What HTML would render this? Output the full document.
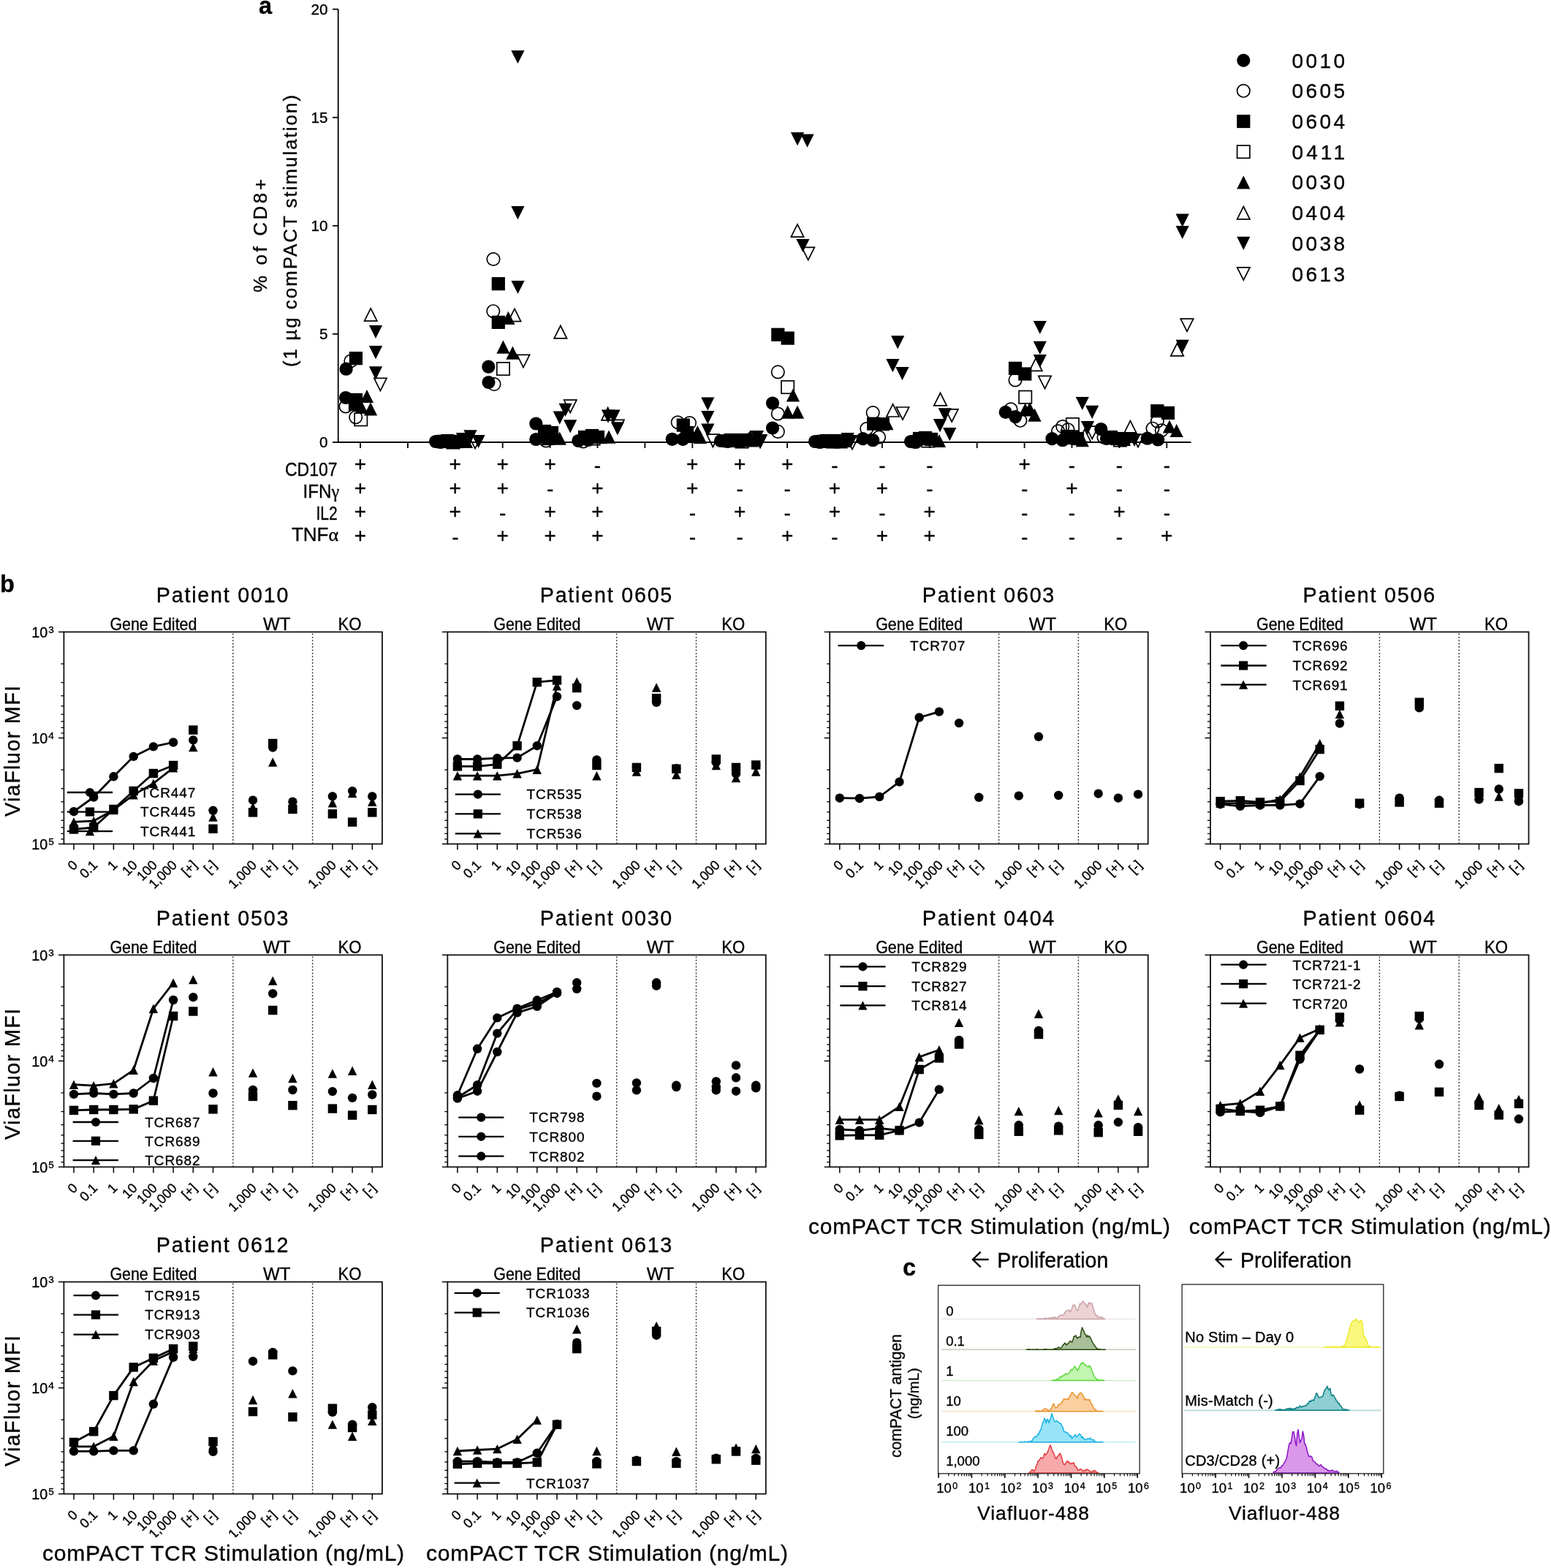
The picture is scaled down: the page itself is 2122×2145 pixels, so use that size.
<!DOCTYPE html><html><head><meta charset="utf-8"><title>Figure</title><style>html,body{margin:0;padding:0;background:#fff;}svg{display:block;}text{font-family:"Liberation Sans",sans-serif;stroke:#000;stroke-width:0.35px;}</style></head><body><svg width="2122" height="2145" viewBox="0 0 2122 2145" font-family="'Liberation Sans', sans-serif" fill="#000"><rect width="100%" height="100%" fill="#fff"/><text x="354" y="18.7" font-size="32.5" font-weight="bold">a</text>
<line x1="462.7" y1="12.5" x2="462.7" y2="605.9" stroke="#000" stroke-width="1.8" />
<line x1="461.8" y1="605" x2="1629.5" y2="605" stroke="#000" stroke-width="1.8" />
<line x1="455" y1="605" x2="462.7" y2="605" stroke="#000" stroke-width="1.8" />
<text x="448.5" y="612.4" font-size="20.7" text-anchor="end">0</text>
<line x1="455" y1="456.9" x2="462.7" y2="456.9" stroke="#000" stroke-width="1.8" />
<text x="448.5" y="464.3" font-size="20.7" text-anchor="end">5</text>
<line x1="455" y1="308.8" x2="462.7" y2="308.8" stroke="#000" stroke-width="1.8" />
<text x="448.5" y="316.2" font-size="20.7" text-anchor="end">10</text>
<line x1="455" y1="160.7" x2="462.7" y2="160.7" stroke="#000" stroke-width="1.8" />
<text x="448.5" y="168.1" font-size="20.7" text-anchor="end">15</text>
<line x1="455" y1="12.6" x2="462.7" y2="12.6" stroke="#000" stroke-width="1.8" />
<text x="448.5" y="20" font-size="20.7" text-anchor="end">20</text>
<line x1="493" y1="605" x2="493" y2="613" stroke="#000" stroke-width="1.8" />
<line x1="557.9" y1="605" x2="557.9" y2="613" stroke="#000" stroke-width="1.8" />
<line x1="622.8" y1="605" x2="622.8" y2="613" stroke="#000" stroke-width="1.8" />
<line x1="687.7" y1="605" x2="687.7" y2="613" stroke="#000" stroke-width="1.8" />
<line x1="752.6" y1="605" x2="752.6" y2="613" stroke="#000" stroke-width="1.8" />
<line x1="817.5" y1="605" x2="817.5" y2="613" stroke="#000" stroke-width="1.8" />
<line x1="882.4" y1="605" x2="882.4" y2="613" stroke="#000" stroke-width="1.8" />
<line x1="947.3" y1="605" x2="947.3" y2="613" stroke="#000" stroke-width="1.8" />
<line x1="1012.2" y1="605" x2="1012.2" y2="613" stroke="#000" stroke-width="1.8" />
<line x1="1077.1" y1="605" x2="1077.1" y2="613" stroke="#000" stroke-width="1.8" />
<line x1="1142" y1="605" x2="1142" y2="613" stroke="#000" stroke-width="1.8" />
<line x1="1206.9" y1="605" x2="1206.9" y2="613" stroke="#000" stroke-width="1.8" />
<line x1="1271.8" y1="605" x2="1271.8" y2="613" stroke="#000" stroke-width="1.8" />
<line x1="1336.7" y1="605" x2="1336.7" y2="613" stroke="#000" stroke-width="1.8" />
<line x1="1401.6" y1="605" x2="1401.6" y2="613" stroke="#000" stroke-width="1.8" />
<line x1="1466.5" y1="605" x2="1466.5" y2="613" stroke="#000" stroke-width="1.8" />
<line x1="1531.4" y1="605" x2="1531.4" y2="613" stroke="#000" stroke-width="1.8" />
<line x1="1596.3" y1="605" x2="1596.3" y2="613" stroke="#000" stroke-width="1.8" />
<text x="364.8" y="400" font-size="25.8" textLength="155" lengthAdjust="spacing" transform="rotate(-90 364.8 400)">% of  CD8+</text>
<text x="406" y="502" font-size="25.8" textLength="372" lengthAdjust="spacing" transform="rotate(-90 406 502)">(1 µg comPACT stimulation)</text>
<text x="390" y="651.3" font-size="24.9" textLength="71.6" lengthAdjust="spacingAndGlyphs">CD107</text>
<text x="414.6" y="680.6" font-size="24.9" textLength="49.6" lengthAdjust="spacingAndGlyphs">IFN<tspan font-family="'Liberation Serif', serif">γ</tspan></text>
<text x="432.4" y="710.5" font-size="24.9" textLength="29.2" lengthAdjust="spacingAndGlyphs">IL2</text>
<text x="398.9" y="739.8" font-size="24.9" textLength="64.2" lengthAdjust="spacingAndGlyphs">TNF<tspan font-family="'Liberation Serif', serif">α</tspan></text>
<text x="493" y="644" font-size="28" text-anchor="middle">+</text>
<text x="622.8" y="644" font-size="28" text-anchor="middle">+</text>
<text x="687.7" y="644" font-size="28" text-anchor="middle">+</text>
<text x="752.6" y="644" font-size="28" text-anchor="middle">+</text>
<text x="817.5" y="645.7" font-size="28" text-anchor="middle">-</text>
<text x="947.3" y="644" font-size="28" text-anchor="middle">+</text>
<text x="1012.2" y="644" font-size="28" text-anchor="middle">+</text>
<text x="1077.1" y="644" font-size="28" text-anchor="middle">+</text>
<text x="1142" y="645.7" font-size="28" text-anchor="middle">-</text>
<text x="1206.9" y="645.7" font-size="28" text-anchor="middle">-</text>
<text x="1271.8" y="645.7" font-size="28" text-anchor="middle">-</text>
<text x="1401.6" y="644" font-size="28" text-anchor="middle">+</text>
<text x="1466.5" y="645.7" font-size="28" text-anchor="middle">-</text>
<text x="1531.4" y="645.7" font-size="28" text-anchor="middle">-</text>
<text x="1596.3" y="645.7" font-size="28" text-anchor="middle">-</text>
<text x="493" y="676.5" font-size="28" text-anchor="middle">+</text>
<text x="622.8" y="676.5" font-size="28" text-anchor="middle">+</text>
<text x="687.7" y="676.5" font-size="28" text-anchor="middle">+</text>
<text x="752.6" y="678.2" font-size="28" text-anchor="middle">-</text>
<text x="817.5" y="676.5" font-size="28" text-anchor="middle">+</text>
<text x="947.3" y="676.5" font-size="28" text-anchor="middle">+</text>
<text x="1012.2" y="678.2" font-size="28" text-anchor="middle">-</text>
<text x="1077.1" y="678.2" font-size="28" text-anchor="middle">-</text>
<text x="1142" y="676.5" font-size="28" text-anchor="middle">+</text>
<text x="1206.9" y="676.5" font-size="28" text-anchor="middle">+</text>
<text x="1271.8" y="678.2" font-size="28" text-anchor="middle">-</text>
<text x="1401.6" y="678.2" font-size="28" text-anchor="middle">-</text>
<text x="1466.5" y="676.5" font-size="28" text-anchor="middle">+</text>
<text x="1531.4" y="678.2" font-size="28" text-anchor="middle">-</text>
<text x="1596.3" y="678.2" font-size="28" text-anchor="middle">-</text>
<text x="493" y="709.1" font-size="28" text-anchor="middle">+</text>
<text x="622.8" y="709.1" font-size="28" text-anchor="middle">+</text>
<text x="687.7" y="710.8" font-size="28" text-anchor="middle">-</text>
<text x="752.6" y="709.1" font-size="28" text-anchor="middle">+</text>
<text x="817.5" y="709.1" font-size="28" text-anchor="middle">+</text>
<text x="947.3" y="710.8" font-size="28" text-anchor="middle">-</text>
<text x="1012.2" y="709.1" font-size="28" text-anchor="middle">+</text>
<text x="1077.1" y="710.8" font-size="28" text-anchor="middle">-</text>
<text x="1142" y="709.1" font-size="28" text-anchor="middle">+</text>
<text x="1206.9" y="710.8" font-size="28" text-anchor="middle">-</text>
<text x="1271.8" y="709.1" font-size="28" text-anchor="middle">+</text>
<text x="1401.6" y="710.8" font-size="28" text-anchor="middle">-</text>
<text x="1466.5" y="710.8" font-size="28" text-anchor="middle">-</text>
<text x="1531.4" y="709.1" font-size="28" text-anchor="middle">+</text>
<text x="1596.3" y="710.8" font-size="28" text-anchor="middle">-</text>
<text x="493" y="741.9" font-size="28" text-anchor="middle">+</text>
<text x="622.8" y="743.6" font-size="28" text-anchor="middle">-</text>
<text x="687.7" y="741.9" font-size="28" text-anchor="middle">+</text>
<text x="752.6" y="741.9" font-size="28" text-anchor="middle">+</text>
<text x="817.5" y="741.9" font-size="28" text-anchor="middle">+</text>
<text x="947.3" y="743.6" font-size="28" text-anchor="middle">-</text>
<text x="1012.2" y="743.6" font-size="28" text-anchor="middle">-</text>
<text x="1077.1" y="741.9" font-size="28" text-anchor="middle">+</text>
<text x="1142" y="743.6" font-size="28" text-anchor="middle">-</text>
<text x="1206.9" y="741.9" font-size="28" text-anchor="middle">+</text>
<text x="1271.8" y="741.9" font-size="28" text-anchor="middle">+</text>
<text x="1401.6" y="743.6" font-size="28" text-anchor="middle">-</text>
<text x="1466.5" y="743.6" font-size="28" text-anchor="middle">-</text>
<text x="1531.4" y="743.6" font-size="28" text-anchor="middle">-</text>
<text x="1596.3" y="741.9" font-size="28" text-anchor="middle">+</text>
<circle cx="1701.3" cy="82.6" r="9.1" fill="#000"/>
<text x="1767.5" y="92.6" font-size="28" textLength="72.5" lengthAdjust="spacing">0010</text>
<circle cx="1701.3" cy="124.3" r="8.7" fill="none" stroke="#000" stroke-width="1.7"/>
<text x="1767.5" y="134.3" font-size="28" textLength="72.5" lengthAdjust="spacing">0605</text>
<rect x="1692.2" y="156.9" width="18.2" height="18.2" fill="#000"/>
<text x="1767.5" y="176" font-size="28" textLength="72.5" lengthAdjust="spacing">0604</text>
<rect x="1692.6" y="199" width="17.3" height="17.3" fill="none" stroke="#000" stroke-width="1.7"/>
<text x="1767.5" y="217.7" font-size="28" textLength="72.5" lengthAdjust="spacing">0411</text>
<path d="M1701.3 240.3L1710.4 258.5L1692.2 258.5Z" fill="#000"/>
<text x="1767.5" y="259.4" font-size="28" textLength="72.5" lengthAdjust="spacing">0030</text>
<path d="M1701.3 282.5L1710 299.8L1692.6 299.8Z" fill="none" stroke="#000" stroke-width="1.7"/>
<text x="1767.5" y="301.1" font-size="28" textLength="72.5" lengthAdjust="spacing">0404</text>
<path d="M1701.3 341.9L1710.4 323.7L1692.2 323.7Z" fill="#000"/>
<text x="1767.5" y="342.8" font-size="28" textLength="72.5" lengthAdjust="spacing">0038</text>
<path d="M1701.3 383.1L1710 365.9L1692.6 365.9Z" fill="none" stroke="#000" stroke-width="1.7"/>
<text x="1767.5" y="384.5" font-size="28" textLength="72.5" lengthAdjust="spacing">0613</text>
<circle cx="473.6" cy="504.7" r="9.1" fill="#000"/>
<circle cx="473" cy="544" r="9.1" fill="#000"/>
<circle cx="596" cy="604" r="9.1" fill="#000"/>
<circle cx="603" cy="605" r="9.1" fill="#000"/>
<circle cx="610" cy="603" r="9.1" fill="#000"/>
<circle cx="668.3" cy="501.7" r="9.1" fill="#000"/>
<circle cx="668.5" cy="523" r="9.1" fill="#000"/>
<circle cx="733.3" cy="579.5" r="9.1" fill="#000"/>
<circle cx="733.3" cy="601" r="9.1" fill="#000"/>
<circle cx="791.3" cy="603" r="9.1" fill="#000"/>
<circle cx="804.6" cy="602" r="9.1" fill="#000"/>
<circle cx="919.7" cy="600.8" r="9.1" fill="#000"/>
<circle cx="934.3" cy="600.8" r="9.1" fill="#000"/>
<circle cx="986" cy="603" r="9.1" fill="#000"/>
<circle cx="996" cy="604" r="9.1" fill="#000"/>
<circle cx="1004" cy="603" r="9.1" fill="#000"/>
<circle cx="1057" cy="551.5" r="9.1" fill="#000"/>
<circle cx="1057" cy="585.5" r="9.1" fill="#000"/>
<circle cx="1115" cy="604" r="9.1" fill="#000"/>
<circle cx="1122" cy="605" r="9.1" fill="#000"/>
<circle cx="1129" cy="604" r="9.1" fill="#000"/>
<circle cx="1180.6" cy="600.1" r="9.1" fill="#000"/>
<circle cx="1194.2" cy="602.2" r="9.1" fill="#000"/>
<circle cx="1246" cy="604" r="9.1" fill="#000"/>
<circle cx="1253" cy="605" r="9.1" fill="#000"/>
<circle cx="1375.7" cy="563.9" r="9.1" fill="#000"/>
<circle cx="1389.2" cy="570.1" r="9.1" fill="#000"/>
<circle cx="1439.4" cy="600.1" r="9.1" fill="#000"/>
<circle cx="1453.8" cy="602.2" r="9.1" fill="#000"/>
<circle cx="1506.3" cy="587" r="9.1" fill="#000"/>
<circle cx="1514" cy="600" r="9.1" fill="#000"/>
<circle cx="1569.7" cy="599.7" r="9.1" fill="#000"/>
<circle cx="1584.2" cy="601.5" r="9.1" fill="#000"/>
<circle cx="479.8" cy="494" r="8.7" fill="none" stroke="#000" stroke-width="1.7"/>
<circle cx="473" cy="556" r="8.7" fill="none" stroke="#000" stroke-width="1.7"/>
<circle cx="486.7" cy="570.8" r="8.7" fill="none" stroke="#000" stroke-width="1.7"/>
<circle cx="600" cy="604" r="8.7" fill="none" stroke="#000" stroke-width="1.7"/>
<circle cx="612" cy="604" r="8.7" fill="none" stroke="#000" stroke-width="1.7"/>
<circle cx="675" cy="354.5" r="8.7" fill="none" stroke="#000" stroke-width="1.7"/>
<circle cx="674.8" cy="425.7" r="8.7" fill="none" stroke="#000" stroke-width="1.7"/>
<circle cx="676" cy="525.6" r="8.7" fill="none" stroke="#000" stroke-width="1.7"/>
<circle cx="747" cy="603" r="8.7" fill="none" stroke="#000" stroke-width="1.7"/>
<circle cx="798" cy="604" r="8.7" fill="none" stroke="#000" stroke-width="1.7"/>
<circle cx="927.2" cy="577.8" r="8.7" fill="none" stroke="#000" stroke-width="1.7"/>
<circle cx="943.5" cy="578.6" r="8.7" fill="none" stroke="#000" stroke-width="1.7"/>
<circle cx="992" cy="603" r="8.7" fill="none" stroke="#000" stroke-width="1.7"/>
<circle cx="1064.3" cy="508.9" r="8.7" fill="none" stroke="#000" stroke-width="1.7"/>
<circle cx="1064.3" cy="566" r="8.7" fill="none" stroke="#000" stroke-width="1.7"/>
<circle cx="1064.3" cy="590.4" r="8.7" fill="none" stroke="#000" stroke-width="1.7"/>
<circle cx="1120" cy="604" r="8.7" fill="none" stroke="#000" stroke-width="1.7"/>
<circle cx="1185.8" cy="586.5" r="8.7" fill="none" stroke="#000" stroke-width="1.7"/>
<circle cx="1202.6" cy="598" r="8.7" fill="none" stroke="#000" stroke-width="1.7"/>
<circle cx="1194.2" cy="564.5" r="8.7" fill="none" stroke="#000" stroke-width="1.7"/>
<circle cx="1250" cy="604" r="8.7" fill="none" stroke="#000" stroke-width="1.7"/>
<circle cx="1389" cy="519.9" r="8.7" fill="none" stroke="#000" stroke-width="1.7"/>
<circle cx="1383" cy="559.8" r="8.7" fill="none" stroke="#000" stroke-width="1.7"/>
<circle cx="1395.9" cy="575.3" r="8.7" fill="none" stroke="#000" stroke-width="1.7"/>
<circle cx="1447.6" cy="589.8" r="8.7" fill="none" stroke="#000" stroke-width="1.7"/>
<circle cx="1453.8" cy="583.6" r="8.7" fill="none" stroke="#000" stroke-width="1.7"/>
<circle cx="1461" cy="587.7" r="8.7" fill="none" stroke="#000" stroke-width="1.7"/>
<circle cx="1510" cy="598" r="8.7" fill="none" stroke="#000" stroke-width="1.7"/>
<circle cx="1583.4" cy="576.2" r="8.7" fill="none" stroke="#000" stroke-width="1.7"/>
<circle cx="1577" cy="586.2" r="8.7" fill="none" stroke="#000" stroke-width="1.7"/>
<circle cx="1589.3" cy="588.8" r="8.7" fill="none" stroke="#000" stroke-width="1.7"/>
<rect x="477.8" y="481.1" width="18.2" height="18.2" fill="#000"/>
<rect x="477.9" y="537.9" width="18.2" height="18.2" fill="#000"/>
<rect x="476.9" y="543.9" width="18.2" height="18.2" fill="#000"/>
<rect x="602.9" y="593.9" width="18.2" height="18.2" fill="#000"/>
<rect x="609.9" y="594.9" width="18.2" height="18.2" fill="#000"/>
<rect x="616.9" y="594.9" width="18.2" height="18.2" fill="#000"/>
<rect x="672.7" y="379.1" width="18.2" height="18.2" fill="#000"/>
<rect x="672.7" y="431.8" width="18.2" height="18.2" fill="#000"/>
<rect x="735.9" y="580.9" width="18.2" height="18.2" fill="#000"/>
<rect x="745.9" y="582.9" width="18.2" height="18.2" fill="#000"/>
<rect x="740.9" y="590.9" width="18.2" height="18.2" fill="#000"/>
<rect x="790.9" y="588.9" width="18.2" height="18.2" fill="#000"/>
<rect x="800.9" y="586.9" width="18.2" height="18.2" fill="#000"/>
<rect x="808.9" y="588.9" width="18.2" height="18.2" fill="#000"/>
<rect x="925.7" y="572.5" width="18.2" height="18.2" fill="#000"/>
<rect x="930.9" y="582.9" width="18.2" height="18.2" fill="#000"/>
<rect x="990.9" y="592.9" width="18.2" height="18.2" fill="#000"/>
<rect x="1000.9" y="593.9" width="18.2" height="18.2" fill="#000"/>
<rect x="1008.9" y="592.9" width="18.2" height="18.2" fill="#000"/>
<rect x="1055.2" y="448.7" width="18.2" height="18.2" fill="#000"/>
<rect x="1068.6" y="453.5" width="18.2" height="18.2" fill="#000"/>
<rect x="1121.9" y="593.9" width="18.2" height="18.2" fill="#000"/>
<rect x="1128.9" y="594.9" width="18.2" height="18.2" fill="#000"/>
<rect x="1135.9" y="593.9" width="18.2" height="18.2" fill="#000"/>
<rect x="1186.1" y="570.6" width="18.2" height="18.2" fill="#000"/>
<rect x="1198.7" y="571.1" width="18.2" height="18.2" fill="#000"/>
<rect x="1248.9" y="590.9" width="18.2" height="18.2" fill="#000"/>
<rect x="1256.9" y="589.9" width="18.2" height="18.2" fill="#000"/>
<rect x="1264.9" y="591.9" width="18.2" height="18.2" fill="#000"/>
<rect x="1379.9" y="494.8" width="18.2" height="18.2" fill="#000"/>
<rect x="1393.2" y="502.4" width="18.2" height="18.2" fill="#000"/>
<rect x="1450.9" y="587.9" width="18.2" height="18.2" fill="#000"/>
<rect x="1458.9" y="589.9" width="18.2" height="18.2" fill="#000"/>
<rect x="1464.9" y="590.9" width="18.2" height="18.2" fill="#000"/>
<rect x="1510.9" y="588.9" width="18.2" height="18.2" fill="#000"/>
<rect x="1518.9" y="590.9" width="18.2" height="18.2" fill="#000"/>
<rect x="1574.2" y="553.1" width="18.2" height="18.2" fill="#000"/>
<rect x="1588.9" y="555.8" width="18.2" height="18.2" fill="#000"/>
<rect x="485.1" y="565.2" width="17.3" height="17.3" fill="none" stroke="#000" stroke-width="1.7"/>
<rect x="611.4" y="596.4" width="17.3" height="17.3" fill="none" stroke="#000" stroke-width="1.7"/>
<rect x="679.8" y="495.9" width="17.3" height="17.3" fill="none" stroke="#000" stroke-width="1.7"/>
<rect x="803.4" y="591.4" width="17.3" height="17.3" fill="none" stroke="#000" stroke-width="1.7"/>
<rect x="1006.4" y="595.4" width="17.3" height="17.3" fill="none" stroke="#000" stroke-width="1.7"/>
<rect x="1069" y="521" width="17.3" height="17.3" fill="none" stroke="#000" stroke-width="1.7"/>
<rect x="1131.3" y="595.4" width="17.3" height="17.3" fill="none" stroke="#000" stroke-width="1.7"/>
<rect x="1261.3" y="594.4" width="17.3" height="17.3" fill="none" stroke="#000" stroke-width="1.7"/>
<rect x="1394.1" y="534.6" width="17.3" height="17.3" fill="none" stroke="#000" stroke-width="1.7"/>
<rect x="1458.8" y="571.9" width="17.3" height="17.3" fill="none" stroke="#000" stroke-width="1.7"/>
<rect x="1523.9" y="593.4" width="17.3" height="17.3" fill="none" stroke="#000" stroke-width="1.7"/>
<path d="M502 532.9L511.1 551.1L492.9 551.1Z" fill="#000"/>
<path d="M507 550.3L516.1 568.5L497.9 568.5Z" fill="#000"/>
<path d="M494.6 547.9L503.7 566.1L485.5 566.1Z" fill="#000"/>
<path d="M628 593.9L637.1 612.1L618.9 612.1Z" fill="#000"/>
<path d="M633 593.9L642.1 612.1L623.9 612.1Z" fill="#000"/>
<path d="M638 594.9L647.1 613.1L628.9 613.1Z" fill="#000"/>
<path d="M695.4 425.8L704.5 444L686.3 444Z" fill="#000"/>
<path d="M688.4 465.5L697.5 483.7L679.3 483.7Z" fill="#000"/>
<path d="M701.4 473.6L710.5 491.8L692.3 491.8Z" fill="#000"/>
<path d="M758 588.9L767.1 607.1L748.9 607.1Z" fill="#000"/>
<path d="M765.7 590.5L774.8 608.7L756.6 608.7Z" fill="#000"/>
<path d="M822 588.9L831.1 607.1L812.9 607.1Z" fill="#000"/>
<path d="M833 588.5L842.1 606.7L823.9 606.7Z" fill="#000"/>
<path d="M954.4 582.1L963.5 600.3L945.3 600.3Z" fill="#000"/>
<path d="M948 587.9L957.1 606.1L938.9 606.1Z" fill="#000"/>
<path d="M958 588.9L967.1 607.1L948.9 607.1Z" fill="#000"/>
<path d="M1024 590.9L1033.1 609.1L1014.9 609.1Z" fill="#000"/>
<path d="M1026.5 588.3L1035.6 606.5L1017.4 606.5Z" fill="#000"/>
<path d="M1034 591.9L1043.1 610.1L1024.9 610.1Z" fill="#000"/>
<path d="M1085 531.4L1094.1 549.6L1075.9 549.6Z" fill="#000"/>
<path d="M1077.7 554.5L1086.8 572.7L1068.6 572.7Z" fill="#000"/>
<path d="M1091 554.5L1100.1 572.7L1081.9 572.7Z" fill="#000"/>
<path d="M1150 593.9L1159.1 612.1L1140.9 612.1Z" fill="#000"/>
<path d="M1155 593.9L1164.1 612.1L1145.9 612.1Z" fill="#000"/>
<path d="M1213.4 570.1L1222.5 588.3L1204.3 588.3Z" fill="#000"/>
<path d="M1280 591.9L1289.1 610.1L1270.9 610.1Z" fill="#000"/>
<path d="M1285 593.9L1294.1 612.1L1275.9 612.1Z" fill="#000"/>
<path d="M1402.6 551.4L1411.7 569.6L1393.5 569.6Z" fill="#000"/>
<path d="M1408.8 550.1L1417.9 568.3L1399.7 568.3Z" fill="#000"/>
<path d="M1415.5 558.6L1424.6 576.8L1406.4 576.8Z" fill="#000"/>
<path d="M1480.8 593.1L1489.9 611.3L1471.7 611.3Z" fill="#000"/>
<path d="M1538 591.9L1547.1 610.1L1528.9 610.1Z" fill="#000"/>
<path d="M1600 574.4L1609.1 592.6L1590.9 592.6Z" fill="#000"/>
<path d="M1609.7 579.9L1618.8 598.1L1600.6 598.1Z" fill="#000"/>
<path d="M507.2 421.9L515.9 439.1L498.6 439.1Z" fill="none" stroke="#000" stroke-width="1.7"/>
<path d="M635 594.4L643.6 611.6L626.4 611.6Z" fill="none" stroke="#000" stroke-width="1.7"/>
<path d="M704 422.4L712.6 439.6L695.4 439.6Z" fill="none" stroke="#000" stroke-width="1.7"/>
<path d="M766.9 445.5L775.5 462.8L758.2 462.8Z" fill="none" stroke="#000" stroke-width="1.7"/>
<path d="M831.6 557.6L840.2 574.9L823 574.9Z" fill="none" stroke="#000" stroke-width="1.7"/>
<path d="M1028 593.4L1036.7 610.6L1019.4 610.6Z" fill="none" stroke="#000" stroke-width="1.7"/>
<path d="M1091 306.9L1099.7 324.1L1082.3 324.1Z" fill="none" stroke="#000" stroke-width="1.7"/>
<path d="M1150 595.4L1158.7 612.6L1141.3 612.6Z" fill="none" stroke="#000" stroke-width="1.7"/>
<path d="M1221.6 552.8L1230.2 570L1212.9 570Z" fill="none" stroke="#000" stroke-width="1.7"/>
<path d="M1286.5 537.5L1295.2 554.8L1277.8 554.8Z" fill="none" stroke="#000" stroke-width="1.7"/>
<path d="M1417.1 490.1L1425.8 507.3L1408.4 507.3Z" fill="none" stroke="#000" stroke-width="1.7"/>
<path d="M1483.9 587.4L1492.6 604.6L1475.2 604.6Z" fill="none" stroke="#000" stroke-width="1.7"/>
<path d="M1546.4 575.6L1555.1 592.9L1537.8 592.9Z" fill="none" stroke="#000" stroke-width="1.7"/>
<path d="M1610.5 469.7L1619.2 486.9L1601.8 486.9Z" fill="none" stroke="#000" stroke-width="1.7"/>
<path d="M514 463.1L523.1 444.9L504.9 444.9Z" fill="#000"/>
<path d="M514 491.3L523.1 473.1L504.9 473.1Z" fill="#000"/>
<path d="M514 519.5L523.1 501.3L504.9 501.3Z" fill="#000"/>
<path d="M633 610.1L642.1 591.9L623.9 591.9Z" fill="#000"/>
<path d="M643.5 606.4L652.6 588.2L634.4 588.2Z" fill="#000"/>
<path d="M654.6 613.1L663.7 594.9L645.5 594.9Z" fill="#000"/>
<path d="M708.4 87.1L717.5 68.9L699.3 68.9Z" fill="#000"/>
<path d="M708.4 300.3L717.5 282.1L699.3 282.1Z" fill="#000"/>
<path d="M708.5 402.1L717.6 383.9L699.4 383.9Z" fill="#000"/>
<path d="M765.7 580.7L774.8 562.5L756.6 562.5Z" fill="#000"/>
<path d="M773.6 569.9L782.7 551.7L764.5 551.7Z" fill="#000"/>
<path d="M780.2 592.5L789.3 574.3L771.1 574.3Z" fill="#000"/>
<path d="M832 578.7L841.1 560.5L822.9 560.5Z" fill="#000"/>
<path d="M839.5 578.7L848.6 560.5L830.4 560.5Z" fill="#000"/>
<path d="M844.9 595.4L854 577.2L835.8 577.2Z" fill="#000"/>
<path d="M968.3 561.8L977.4 543.6L959.2 543.6Z" fill="#000"/>
<path d="M968.3 580.2L977.4 562L959.2 562Z" fill="#000"/>
<path d="M968.3 597.8L977.4 579.6L959.2 579.6Z" fill="#000"/>
<path d="M1036 607.1L1045.1 588.9L1026.9 588.9Z" fill="#000"/>
<path d="M1041 612.1L1050.1 593.9L1031.9 593.9Z" fill="#000"/>
<path d="M1091 199.2L1100.1 181L1081.9 181Z" fill="#000"/>
<path d="M1104.5 201.7L1113.6 183.5L1095.4 183.5Z" fill="#000"/>
<path d="M1098.4 345.1L1107.5 326.9L1089.3 326.9Z" fill="#000"/>
<path d="M1159.7 610.3L1168.8 592.1L1150.6 592.1Z" fill="#000"/>
<path d="M1164 613.1L1173.1 594.9L1154.9 594.9Z" fill="#000"/>
<path d="M1228.2 477.4L1237.3 459.2L1219.1 459.2Z" fill="#000"/>
<path d="M1221.4 509.3L1230.5 491.1L1212.3 491.1Z" fill="#000"/>
<path d="M1234.5 520.3L1243.6 502.1L1225.4 502.1Z" fill="#000"/>
<path d="M1292.8 576.4L1301.9 558.2L1283.7 558.2Z" fill="#000"/>
<path d="M1286 591.3L1295.1 573.1L1276.9 573.1Z" fill="#000"/>
<path d="M1299.3 603.3L1308.4 585.1L1290.2 585.1Z" fill="#000"/>
<path d="M1422.8 457.1L1431.9 438.9L1413.7 438.9Z" fill="#000"/>
<path d="M1422.8 485L1431.9 466.8L1413.7 466.8Z" fill="#000"/>
<path d="M1422.8 503.1L1431.9 484.9L1413.7 484.9Z" fill="#000"/>
<path d="M1480.8 561.1L1489.9 542.9L1471.7 542.9Z" fill="#000"/>
<path d="M1494.2 573L1503.3 554.8L1485.1 554.8Z" fill="#000"/>
<path d="M1488 594.2L1497.1 576L1478.9 576Z" fill="#000"/>
<path d="M1545 609.1L1554.1 590.9L1535.9 590.9Z" fill="#000"/>
<path d="M1552 611.1L1561.1 592.9L1542.9 592.9Z" fill="#000"/>
<path d="M1617.7 310.8L1626.8 292.6L1608.6 292.6Z" fill="#000"/>
<path d="M1617.7 327.1L1626.8 308.9L1608.6 308.9Z" fill="#000"/>
<path d="M1617.7 482.9L1626.8 464.7L1608.6 464.7Z" fill="#000"/>
<path d="M520.4 534.6L529 517.4L511.8 517.4Z" fill="none" stroke="#000" stroke-width="1.7"/>
<path d="M650 613.6L658.6 596.4L641.4 596.4Z" fill="none" stroke="#000" stroke-width="1.7"/>
<path d="M716 502.6L724.6 485.4L707.4 485.4Z" fill="none" stroke="#000" stroke-width="1.7"/>
<path d="M780.2 564.5L788.9 547.2L771.6 547.2Z" fill="none" stroke="#000" stroke-width="1.7"/>
<path d="M845.4 591.6L854 574.4L836.8 574.4Z" fill="none" stroke="#000" stroke-width="1.7"/>
<path d="M975.4 611.5L984 594.2L966.8 594.2Z" fill="none" stroke="#000" stroke-width="1.7"/>
<path d="M1040 612.6L1048.7 595.4L1031.3 595.4Z" fill="none" stroke="#000" stroke-width="1.7"/>
<path d="M1105.7 355.6L1114.4 338.4L1097 338.4Z" fill="none" stroke="#000" stroke-width="1.7"/>
<path d="M1166 614.6L1174.7 597.4L1157.3 597.4Z" fill="none" stroke="#000" stroke-width="1.7"/>
<path d="M1235 574.2L1243.7 557L1226.3 557Z" fill="none" stroke="#000" stroke-width="1.7"/>
<path d="M1302.2 577L1310.9 559.8L1293.5 559.8Z" fill="none" stroke="#000" stroke-width="1.7"/>
<path d="M1429.5 531.6L1438.2 514.4L1420.8 514.4Z" fill="none" stroke="#000" stroke-width="1.7"/>
<path d="M1494.2 600.4L1502.9 583.1L1485.5 583.1Z" fill="none" stroke="#000" stroke-width="1.7"/>
<path d="M1557 611.6L1565.7 594.4L1548.3 594.4Z" fill="none" stroke="#000" stroke-width="1.7"/>
<path d="M1624 453.4L1632.7 436.2L1615.3 436.2Z" fill="none" stroke="#000" stroke-width="1.7"/>
<text x="0" y="809.6" font-size="32.5" font-weight="bold">b</text>
<text x="304.1" y="823.7" font-size="28.6" text-anchor="middle" textLength="180.5" lengthAdjust="spacing">Patient 0010</text>
<text x="150.4" y="862.3" font-size="24.3" textLength="119" lengthAdjust="spacingAndGlyphs">Gene Edited</text>
<text x="359.9" y="862.3" font-size="24.3" textLength="37.5" lengthAdjust="spacingAndGlyphs">WT</text>
<text x="462.4" y="862.3" font-size="24.3" textLength="32" lengthAdjust="spacingAndGlyphs">KO</text>
<line x1="318.8" y1="866.5" x2="318.8" y2="1154.5" stroke="#333" stroke-width="1.4" stroke-dasharray="2 2.4"/>
<line x1="427.6" y1="866.5" x2="427.6" y2="1154.5" stroke="#333" stroke-width="1.4" stroke-dasharray="2 2.4"/>
<rect x="87.4" y="864.5" width="435.5" height="290" fill="none" stroke="#111" stroke-width="1.8"/>
<line x1="79.9" y1="864.5" x2="87.4" y2="864.5" stroke="#000" stroke-width="1.5" />
<line x1="83.4" y1="908.1" x2="87.4" y2="908.1" stroke="#000" stroke-width="1.3" />
<line x1="83.4" y1="933.7" x2="87.4" y2="933.7" stroke="#000" stroke-width="1.3" />
<line x1="83.4" y1="951.8" x2="87.4" y2="951.8" stroke="#000" stroke-width="1.3" />
<line x1="83.4" y1="965.9" x2="87.4" y2="965.9" stroke="#000" stroke-width="1.3" />
<line x1="83.4" y1="977.3" x2="87.4" y2="977.3" stroke="#000" stroke-width="1.3" />
<line x1="83.4" y1="987" x2="87.4" y2="987" stroke="#000" stroke-width="1.3" />
<line x1="83.4" y1="995.4" x2="87.4" y2="995.4" stroke="#000" stroke-width="1.3" />
<line x1="83.4" y1="1002.9" x2="87.4" y2="1002.9" stroke="#000" stroke-width="1.3" />
<line x1="79.9" y1="1009.5" x2="87.4" y2="1009.5" stroke="#000" stroke-width="1.5" />
<line x1="83.4" y1="1053.1" x2="87.4" y2="1053.1" stroke="#000" stroke-width="1.3" />
<line x1="83.4" y1="1078.7" x2="87.4" y2="1078.7" stroke="#000" stroke-width="1.3" />
<line x1="83.4" y1="1096.8" x2="87.4" y2="1096.8" stroke="#000" stroke-width="1.3" />
<line x1="83.4" y1="1110.9" x2="87.4" y2="1110.9" stroke="#000" stroke-width="1.3" />
<line x1="83.4" y1="1122.3" x2="87.4" y2="1122.3" stroke="#000" stroke-width="1.3" />
<line x1="83.4" y1="1132" x2="87.4" y2="1132" stroke="#000" stroke-width="1.3" />
<line x1="83.4" y1="1140.4" x2="87.4" y2="1140.4" stroke="#000" stroke-width="1.3" />
<line x1="83.4" y1="1147.9" x2="87.4" y2="1147.9" stroke="#000" stroke-width="1.3" />
<line x1="79.9" y1="1154.5" x2="87.4" y2="1154.5" stroke="#000" stroke-width="1.5" />
<line x1="101" y1="1154.5" x2="101" y2="1162.5" stroke="#000" stroke-width="1.5" />
<text x="107.2" y="1184.5" font-size="18.3" text-anchor="end" transform="rotate(-45 107.2 1184.5)">0</text>
<line x1="128.2" y1="1154.5" x2="128.2" y2="1162.5" stroke="#000" stroke-width="1.5" />
<text x="134.4" y="1184.5" font-size="18.3" text-anchor="end" transform="rotate(-45 134.4 1184.5)">0.1</text>
<line x1="155.4" y1="1154.5" x2="155.4" y2="1162.5" stroke="#000" stroke-width="1.5" />
<text x="161.6" y="1184.5" font-size="18.3" text-anchor="end" transform="rotate(-45 161.6 1184.5)">1</text>
<line x1="182.7" y1="1154.5" x2="182.7" y2="1162.5" stroke="#000" stroke-width="1.5" />
<text x="188.9" y="1184.5" font-size="18.3" text-anchor="end" transform="rotate(-45 188.9 1184.5)">10</text>
<line x1="209.9" y1="1154.5" x2="209.9" y2="1162.5" stroke="#000" stroke-width="1.5" />
<text x="216.1" y="1184.5" font-size="18.3" text-anchor="end" transform="rotate(-45 216.1 1184.5)">100</text>
<line x1="237.1" y1="1154.5" x2="237.1" y2="1162.5" stroke="#000" stroke-width="1.5" />
<text x="243.3" y="1184.5" font-size="18.3" text-anchor="end" transform="rotate(-45 243.3 1184.5)">1,000</text>
<line x1="264.3" y1="1154.5" x2="264.3" y2="1162.5" stroke="#000" stroke-width="1.5" />
<text x="270.5" y="1184.5" font-size="18.3" text-anchor="end" transform="rotate(-45 270.5 1184.5)">[+]</text>
<line x1="291.5" y1="1154.5" x2="291.5" y2="1162.5" stroke="#000" stroke-width="1.5" />
<text x="297.7" y="1184.5" font-size="18.3" text-anchor="end" transform="rotate(-45 297.7 1184.5)">[-]</text>
<line x1="346" y1="1154.5" x2="346" y2="1162.5" stroke="#000" stroke-width="1.5" />
<text x="352.2" y="1184.5" font-size="18.3" text-anchor="end" transform="rotate(-45 352.2 1184.5)">1,000</text>
<line x1="373.2" y1="1154.5" x2="373.2" y2="1162.5" stroke="#000" stroke-width="1.5" />
<text x="379.4" y="1184.5" font-size="18.3" text-anchor="end" transform="rotate(-45 379.4 1184.5)">[+]</text>
<line x1="400.4" y1="1154.5" x2="400.4" y2="1162.5" stroke="#000" stroke-width="1.5" />
<text x="406.6" y="1184.5" font-size="18.3" text-anchor="end" transform="rotate(-45 406.6 1184.5)">[-]</text>
<line x1="454.9" y1="1154.5" x2="454.9" y2="1162.5" stroke="#000" stroke-width="1.5" />
<text x="461.1" y="1184.5" font-size="18.3" text-anchor="end" transform="rotate(-45 461.1 1184.5)">1,000</text>
<line x1="482.1" y1="1154.5" x2="482.1" y2="1162.5" stroke="#000" stroke-width="1.5" />
<text x="488.3" y="1184.5" font-size="18.3" text-anchor="end" transform="rotate(-45 488.3 1184.5)">[+]</text>
<line x1="509.3" y1="1154.5" x2="509.3" y2="1162.5" stroke="#000" stroke-width="1.5" />
<text x="515.5" y="1184.5" font-size="18.3" text-anchor="end" transform="rotate(-45 515.5 1184.5)">[-]</text>
<text x="43.2" y="871.6" font-size="19.8">10</text>
<text x="66.2" y="865.8" font-size="13.6">3</text>
<text x="43.2" y="1016.6" font-size="19.8">10</text>
<text x="66.2" y="1010.8" font-size="13.6">4</text>
<text x="43.2" y="1161.6" font-size="19.8">10</text>
<text x="66.2" y="1155.8" font-size="13.6">5</text>
<text x="26.6" y="1117" font-size="28.6" textLength="179" lengthAdjust="spacing" transform="rotate(-90 26.6 1117)">ViaFluor MFI</text>
<line x1="91.8" y1="1084" x2="154.1" y2="1084" stroke="#000" stroke-width="2.3" />
<circle cx="123" cy="1084" r="6.1" fill="#000"/>
<text x="192" y="1090.8" font-size="19" textLength="75.3" lengthAdjust="spacing">TCR447</text>
<line x1="91.8" y1="1110.6" x2="154.1" y2="1110.6" stroke="#000" stroke-width="2.3" />
<rect x="116.9" y="1104.5" width="12.2" height="12.2" fill="#000"/>
<text x="192" y="1117.4" font-size="19" textLength="75.3" lengthAdjust="spacing">TCR445</text>
<line x1="91.8" y1="1137.2" x2="154.1" y2="1137.2" stroke="#000" stroke-width="2.3" />
<path d="M123 1131.1L129.1 1143.3L116.9 1143.3Z" fill="#000"/>
<text x="192" y="1144" font-size="19" textLength="75.3" lengthAdjust="spacing">TCR441</text>
<path d="M101 1110.2 L128.2 1090.5 L155.4 1062.3 L182.7 1034.9 L209.9 1021.4 L237.1 1015.5" fill="none" stroke="#000" stroke-width="2.8" stroke-linejoin="round"/>
<circle cx="101" cy="1110.2" r="6.2" fill="#000"/>
<circle cx="128.2" cy="1090.5" r="6.2" fill="#000"/>
<circle cx="155.4" cy="1062.3" r="6.2" fill="#000"/>
<circle cx="182.7" cy="1034.9" r="6.2" fill="#000"/>
<circle cx="209.9" cy="1021.4" r="6.2" fill="#000"/>
<circle cx="237.1" cy="1015.5" r="6.2" fill="#000"/>
<circle cx="264.3" cy="1012.4" r="6.2" fill="#000"/>
<circle cx="291.5" cy="1108.8" r="6.2" fill="#000"/>
<circle cx="346" cy="1094.7" r="6.2" fill="#000"/>
<circle cx="373.2" cy="1022.6" r="6.2" fill="#000"/>
<circle cx="400.4" cy="1096.7" r="6.2" fill="#000"/>
<circle cx="454.9" cy="1089.4" r="6.2" fill="#000"/>
<circle cx="482.1" cy="1082.1" r="6.2" fill="#000"/>
<circle cx="509.3" cy="1089.4" r="6.2" fill="#000"/>
<path d="M101 1134.5 L128.2 1132 L155.4 1107 L182.7 1082 L209.9 1058 L237.1 1047" fill="none" stroke="#000" stroke-width="2.8" stroke-linejoin="round"/>
<rect x="94.8" y="1128.3" width="12.4" height="12.4" fill="#000"/>
<rect x="122" y="1125.8" width="12.4" height="12.4" fill="#000"/>
<rect x="149.2" y="1100.8" width="12.4" height="12.4" fill="#000"/>
<rect x="176.5" y="1075.8" width="12.4" height="12.4" fill="#000"/>
<rect x="203.7" y="1051.8" width="12.4" height="12.4" fill="#000"/>
<rect x="230.9" y="1040.8" width="12.4" height="12.4" fill="#000"/>
<rect x="258.1" y="992.4" width="12.4" height="12.4" fill="#000"/>
<rect x="285.3" y="1127.6" width="12.4" height="12.4" fill="#000"/>
<rect x="339.8" y="1105.2" width="12.4" height="12.4" fill="#000"/>
<rect x="367" y="1010.8" width="12.4" height="12.4" fill="#000"/>
<rect x="394.2" y="1100.8" width="12.4" height="12.4" fill="#000"/>
<rect x="448.7" y="1107.2" width="12.4" height="12.4" fill="#000"/>
<rect x="475.9" y="1118.4" width="12.4" height="12.4" fill="#000"/>
<rect x="503.1" y="1105.2" width="12.4" height="12.4" fill="#000"/>
<path d="M101 1124.4 L128.2 1123 L155.4 1108 L182.7 1087.4 L209.9 1071.7 L237.1 1050.3" fill="none" stroke="#000" stroke-width="2.8" stroke-linejoin="round"/>
<path d="M101 1118.2L107.2 1130.6L94.8 1130.6Z" fill="#000"/>
<path d="M128.2 1116.8L134.4 1129.2L122 1129.2Z" fill="#000"/>
<path d="M155.4 1101.8L161.6 1114.2L149.2 1114.2Z" fill="#000"/>
<path d="M182.7 1081.2L188.9 1093.6L176.5 1093.6Z" fill="#000"/>
<path d="M209.9 1065.5L216.1 1077.9L203.7 1077.9Z" fill="#000"/>
<path d="M237.1 1044.1L243.3 1056.5L230.9 1056.5Z" fill="#000"/>
<path d="M264.3 1015.8L270.5 1028.2L258.1 1028.2Z" fill="#000"/>
<path d="M291.5 1111.3L297.7 1123.7L285.3 1123.7Z" fill="#000"/>
<path d="M346 1097.8L352.2 1110.2L339.8 1110.2Z" fill="#000"/>
<path d="M373.2 1036.3L379.4 1048.7L367 1048.7Z" fill="#000"/>
<path d="M400.4 1094.9L406.6 1107.3L394.2 1107.3Z" fill="#000"/>
<path d="M454.9 1092L461.1 1104.4L448.7 1104.4Z" fill="#000"/>
<path d="M482.1 1078.8L488.3 1091.2L475.9 1091.2Z" fill="#000"/>
<path d="M509.3 1090.5L515.5 1102.9L503.1 1102.9Z" fill="#000"/>
<text x="829" y="823.7" font-size="28.6" text-anchor="middle" textLength="180.5" lengthAdjust="spacing">Patient 0605</text>
<text x="675.3" y="862.3" font-size="24.3" textLength="119" lengthAdjust="spacingAndGlyphs">Gene Edited</text>
<text x="884.8" y="862.3" font-size="24.3" textLength="37.5" lengthAdjust="spacingAndGlyphs">WT</text>
<text x="987.3" y="862.3" font-size="24.3" textLength="32" lengthAdjust="spacingAndGlyphs">KO</text>
<line x1="843.7" y1="866.5" x2="843.7" y2="1154.5" stroke="#333" stroke-width="1.4" stroke-dasharray="2 2.4"/>
<line x1="952.5" y1="866.5" x2="952.5" y2="1154.5" stroke="#333" stroke-width="1.4" stroke-dasharray="2 2.4"/>
<rect x="612.3" y="864.5" width="435.5" height="290" fill="none" stroke="#111" stroke-width="1.8"/>
<line x1="604.8" y1="864.5" x2="612.3" y2="864.5" stroke="#000" stroke-width="1.5" />
<line x1="608.3" y1="908.1" x2="612.3" y2="908.1" stroke="#000" stroke-width="1.3" />
<line x1="608.3" y1="933.7" x2="612.3" y2="933.7" stroke="#000" stroke-width="1.3" />
<line x1="608.3" y1="951.8" x2="612.3" y2="951.8" stroke="#000" stroke-width="1.3" />
<line x1="608.3" y1="965.9" x2="612.3" y2="965.9" stroke="#000" stroke-width="1.3" />
<line x1="608.3" y1="977.3" x2="612.3" y2="977.3" stroke="#000" stroke-width="1.3" />
<line x1="608.3" y1="987" x2="612.3" y2="987" stroke="#000" stroke-width="1.3" />
<line x1="608.3" y1="995.4" x2="612.3" y2="995.4" stroke="#000" stroke-width="1.3" />
<line x1="608.3" y1="1002.9" x2="612.3" y2="1002.9" stroke="#000" stroke-width="1.3" />
<line x1="604.8" y1="1009.5" x2="612.3" y2="1009.5" stroke="#000" stroke-width="1.5" />
<line x1="608.3" y1="1053.1" x2="612.3" y2="1053.1" stroke="#000" stroke-width="1.3" />
<line x1="608.3" y1="1078.7" x2="612.3" y2="1078.7" stroke="#000" stroke-width="1.3" />
<line x1="608.3" y1="1096.8" x2="612.3" y2="1096.8" stroke="#000" stroke-width="1.3" />
<line x1="608.3" y1="1110.9" x2="612.3" y2="1110.9" stroke="#000" stroke-width="1.3" />
<line x1="608.3" y1="1122.3" x2="612.3" y2="1122.3" stroke="#000" stroke-width="1.3" />
<line x1="608.3" y1="1132" x2="612.3" y2="1132" stroke="#000" stroke-width="1.3" />
<line x1="608.3" y1="1140.4" x2="612.3" y2="1140.4" stroke="#000" stroke-width="1.3" />
<line x1="608.3" y1="1147.9" x2="612.3" y2="1147.9" stroke="#000" stroke-width="1.3" />
<line x1="604.8" y1="1154.5" x2="612.3" y2="1154.5" stroke="#000" stroke-width="1.5" />
<line x1="625.9" y1="1154.5" x2="625.9" y2="1162.5" stroke="#000" stroke-width="1.5" />
<text x="632.1" y="1184.5" font-size="18.3" text-anchor="end" transform="rotate(-45 632.1 1184.5)">0</text>
<line x1="653.1" y1="1154.5" x2="653.1" y2="1162.5" stroke="#000" stroke-width="1.5" />
<text x="659.3" y="1184.5" font-size="18.3" text-anchor="end" transform="rotate(-45 659.3 1184.5)">0.1</text>
<line x1="680.3" y1="1154.5" x2="680.3" y2="1162.5" stroke="#000" stroke-width="1.5" />
<text x="686.5" y="1184.5" font-size="18.3" text-anchor="end" transform="rotate(-45 686.5 1184.5)">1</text>
<line x1="707.6" y1="1154.5" x2="707.6" y2="1162.5" stroke="#000" stroke-width="1.5" />
<text x="713.8" y="1184.5" font-size="18.3" text-anchor="end" transform="rotate(-45 713.8 1184.5)">10</text>
<line x1="734.8" y1="1154.5" x2="734.8" y2="1162.5" stroke="#000" stroke-width="1.5" />
<text x="741" y="1184.5" font-size="18.3" text-anchor="end" transform="rotate(-45 741 1184.5)">100</text>
<line x1="762" y1="1154.5" x2="762" y2="1162.5" stroke="#000" stroke-width="1.5" />
<text x="768.2" y="1184.5" font-size="18.3" text-anchor="end" transform="rotate(-45 768.2 1184.5)">1,000</text>
<line x1="789.2" y1="1154.5" x2="789.2" y2="1162.5" stroke="#000" stroke-width="1.5" />
<text x="795.4" y="1184.5" font-size="18.3" text-anchor="end" transform="rotate(-45 795.4 1184.5)">[+]</text>
<line x1="816.4" y1="1154.5" x2="816.4" y2="1162.5" stroke="#000" stroke-width="1.5" />
<text x="822.6" y="1184.5" font-size="18.3" text-anchor="end" transform="rotate(-45 822.6 1184.5)">[-]</text>
<line x1="870.9" y1="1154.5" x2="870.9" y2="1162.5" stroke="#000" stroke-width="1.5" />
<text x="877.1" y="1184.5" font-size="18.3" text-anchor="end" transform="rotate(-45 877.1 1184.5)">1,000</text>
<line x1="898.1" y1="1154.5" x2="898.1" y2="1162.5" stroke="#000" stroke-width="1.5" />
<text x="904.3" y="1184.5" font-size="18.3" text-anchor="end" transform="rotate(-45 904.3 1184.5)">[+]</text>
<line x1="925.3" y1="1154.5" x2="925.3" y2="1162.5" stroke="#000" stroke-width="1.5" />
<text x="931.5" y="1184.5" font-size="18.3" text-anchor="end" transform="rotate(-45 931.5 1184.5)">[-]</text>
<line x1="979.8" y1="1154.5" x2="979.8" y2="1162.5" stroke="#000" stroke-width="1.5" />
<text x="986" y="1184.5" font-size="18.3" text-anchor="end" transform="rotate(-45 986 1184.5)">1,000</text>
<line x1="1007" y1="1154.5" x2="1007" y2="1162.5" stroke="#000" stroke-width="1.5" />
<text x="1013.2" y="1184.5" font-size="18.3" text-anchor="end" transform="rotate(-45 1013.2 1184.5)">[+]</text>
<line x1="1034.2" y1="1154.5" x2="1034.2" y2="1162.5" stroke="#000" stroke-width="1.5" />
<text x="1040.4" y="1184.5" font-size="18.3" text-anchor="end" transform="rotate(-45 1040.4 1184.5)">[-]</text>
<line x1="622.7" y1="1086.6" x2="684.9" y2="1086.6" stroke="#000" stroke-width="2.3" />
<circle cx="653.8" cy="1086.6" r="6.1" fill="#000"/>
<text x="720.6" y="1093.4" font-size="19" textLength="75.3" lengthAdjust="spacing">TCR535</text>
<line x1="622.7" y1="1113.4" x2="684.9" y2="1113.4" stroke="#000" stroke-width="2.3" />
<rect x="647.7" y="1107.3" width="12.2" height="12.2" fill="#000"/>
<text x="720.6" y="1120.2" font-size="19" textLength="75.3" lengthAdjust="spacing">TCR538</text>
<line x1="622.7" y1="1140.3" x2="684.9" y2="1140.3" stroke="#000" stroke-width="2.3" />
<path d="M653.8 1134.2L659.9 1146.4L647.7 1146.4Z" fill="#000"/>
<text x="720.6" y="1147.1" font-size="19" textLength="75.3" lengthAdjust="spacing">TCR536</text>
<path d="M625.9 1038.5 L653.1 1038.5 L680.3 1037.1 L707.6 1036.6 L734.8 1020.2 L762 952.9" fill="none" stroke="#000" stroke-width="2.8" stroke-linejoin="round"/>
<circle cx="625.9" cy="1038.5" r="6.2" fill="#000"/>
<circle cx="653.1" cy="1038.5" r="6.2" fill="#000"/>
<circle cx="680.3" cy="1037.1" r="6.2" fill="#000"/>
<circle cx="707.6" cy="1036.6" r="6.2" fill="#000"/>
<circle cx="734.8" cy="1020.2" r="6.2" fill="#000"/>
<circle cx="762" cy="952.9" r="6.2" fill="#000"/>
<circle cx="789.2" cy="965.1" r="6.2" fill="#000"/>
<circle cx="816.4" cy="1039.4" r="6.2" fill="#000"/>
<circle cx="870.9" cy="1049.9" r="6.2" fill="#000"/>
<circle cx="898.1" cy="960.8" r="6.2" fill="#000"/>
<circle cx="925.3" cy="1051.3" r="6.2" fill="#000"/>
<circle cx="979.8" cy="1042.8" r="6.2" fill="#000"/>
<circle cx="1007" cy="1058.3" r="6.2" fill="#000"/>
<circle cx="1034.2" cy="1047" r="6.2" fill="#000"/>
<path d="M625.9 1048.4 L653.1 1048.4 L680.3 1045.6 L707.6 1020.2 L734.8 933.2 L762 930.6" fill="none" stroke="#000" stroke-width="2.8" stroke-linejoin="round"/>
<rect x="619.7" y="1042.2" width="12.4" height="12.4" fill="#000"/>
<rect x="646.9" y="1042.2" width="12.4" height="12.4" fill="#000"/>
<rect x="674.1" y="1039.4" width="12.4" height="12.4" fill="#000"/>
<rect x="701.4" y="1014" width="12.4" height="12.4" fill="#000"/>
<rect x="728.6" y="927" width="12.4" height="12.4" fill="#000"/>
<rect x="755.8" y="924.4" width="12.4" height="12.4" fill="#000"/>
<rect x="783" y="934.9" width="12.4" height="12.4" fill="#000"/>
<rect x="810.2" y="1040.8" width="12.4" height="12.4" fill="#000"/>
<rect x="864.7" y="1043.7" width="12.4" height="12.4" fill="#000"/>
<rect x="891.9" y="949" width="12.4" height="12.4" fill="#000"/>
<rect x="919.1" y="1045.6" width="12.4" height="12.4" fill="#000"/>
<rect x="973.6" y="1032.3" width="12.4" height="12.4" fill="#000"/>
<rect x="1000.8" y="1043.7" width="12.4" height="12.4" fill="#000"/>
<rect x="1028" y="1040.3" width="12.4" height="12.4" fill="#000"/>
<path d="M625.9 1061.2 L653.1 1061.2 L680.3 1061.2 L707.6 1058.3 L734.8 1052.7 L762 938.2" fill="none" stroke="#000" stroke-width="2.8" stroke-linejoin="round"/>
<path d="M625.9 1055L632.1 1067.4L619.7 1067.4Z" fill="#000"/>
<path d="M653.1 1055L659.3 1067.4L646.9 1067.4Z" fill="#000"/>
<path d="M680.3 1055L686.5 1067.4L674.1 1067.4Z" fill="#000"/>
<path d="M707.6 1052.1L713.8 1064.5L701.4 1064.5Z" fill="#000"/>
<path d="M734.8 1046.5L741 1058.9L728.6 1058.9Z" fill="#000"/>
<path d="M762 932L768.2 944.4L755.8 944.4Z" fill="#000"/>
<path d="M789.2 926.4L795.4 938.8L783 938.8Z" fill="#000"/>
<path d="M816.4 1055L822.6 1067.4L810.2 1067.4Z" fill="#000"/>
<path d="M870.9 1049.3L877.1 1061.7L864.7 1061.7Z" fill="#000"/>
<path d="M898.1 934.3L904.3 946.7L891.9 946.7Z" fill="#000"/>
<path d="M925.3 1053.5L931.5 1065.9L919.1 1065.9Z" fill="#000"/>
<path d="M979.8 1040.8L986 1053.2L973.6 1053.2Z" fill="#000"/>
<path d="M1007 1057.8L1013.2 1070.2L1000.8 1070.2Z" fill="#000"/>
<path d="M1034.2 1049.3L1040.4 1061.7L1028 1061.7Z" fill="#000"/>
<text x="1352" y="823.7" font-size="28.6" text-anchor="middle" textLength="180.5" lengthAdjust="spacing">Patient 0603</text>
<text x="1198.2" y="862.3" font-size="24.3" textLength="119" lengthAdjust="spacingAndGlyphs">Gene Edited</text>
<text x="1407.7" y="862.3" font-size="24.3" textLength="37.5" lengthAdjust="spacingAndGlyphs">WT</text>
<text x="1510.2" y="862.3" font-size="24.3" textLength="32" lengthAdjust="spacingAndGlyphs">KO</text>
<line x1="1366.6" y1="866.5" x2="1366.6" y2="1154.5" stroke="#333" stroke-width="1.4" stroke-dasharray="2 2.4"/>
<line x1="1475.4" y1="866.5" x2="1475.4" y2="1154.5" stroke="#333" stroke-width="1.4" stroke-dasharray="2 2.4"/>
<rect x="1135.2" y="864.5" width="435.5" height="290" fill="none" stroke="#111" stroke-width="1.8"/>
<line x1="1127.7" y1="864.5" x2="1135.2" y2="864.5" stroke="#000" stroke-width="1.5" />
<line x1="1131.2" y1="908.1" x2="1135.2" y2="908.1" stroke="#000" stroke-width="1.3" />
<line x1="1131.2" y1="933.7" x2="1135.2" y2="933.7" stroke="#000" stroke-width="1.3" />
<line x1="1131.2" y1="951.8" x2="1135.2" y2="951.8" stroke="#000" stroke-width="1.3" />
<line x1="1131.2" y1="965.9" x2="1135.2" y2="965.9" stroke="#000" stroke-width="1.3" />
<line x1="1131.2" y1="977.3" x2="1135.2" y2="977.3" stroke="#000" stroke-width="1.3" />
<line x1="1131.2" y1="987" x2="1135.2" y2="987" stroke="#000" stroke-width="1.3" />
<line x1="1131.2" y1="995.4" x2="1135.2" y2="995.4" stroke="#000" stroke-width="1.3" />
<line x1="1131.2" y1="1002.9" x2="1135.2" y2="1002.9" stroke="#000" stroke-width="1.3" />
<line x1="1127.7" y1="1009.5" x2="1135.2" y2="1009.5" stroke="#000" stroke-width="1.5" />
<line x1="1131.2" y1="1053.1" x2="1135.2" y2="1053.1" stroke="#000" stroke-width="1.3" />
<line x1="1131.2" y1="1078.7" x2="1135.2" y2="1078.7" stroke="#000" stroke-width="1.3" />
<line x1="1131.2" y1="1096.8" x2="1135.2" y2="1096.8" stroke="#000" stroke-width="1.3" />
<line x1="1131.2" y1="1110.9" x2="1135.2" y2="1110.9" stroke="#000" stroke-width="1.3" />
<line x1="1131.2" y1="1122.3" x2="1135.2" y2="1122.3" stroke="#000" stroke-width="1.3" />
<line x1="1131.2" y1="1132" x2="1135.2" y2="1132" stroke="#000" stroke-width="1.3" />
<line x1="1131.2" y1="1140.4" x2="1135.2" y2="1140.4" stroke="#000" stroke-width="1.3" />
<line x1="1131.2" y1="1147.9" x2="1135.2" y2="1147.9" stroke="#000" stroke-width="1.3" />
<line x1="1127.7" y1="1154.5" x2="1135.2" y2="1154.5" stroke="#000" stroke-width="1.5" />
<line x1="1148.8" y1="1154.5" x2="1148.8" y2="1162.5" stroke="#000" stroke-width="1.5" />
<text x="1155" y="1184.5" font-size="18.3" text-anchor="end" transform="rotate(-45 1155 1184.5)">0</text>
<line x1="1176" y1="1154.5" x2="1176" y2="1162.5" stroke="#000" stroke-width="1.5" />
<text x="1182.2" y="1184.5" font-size="18.3" text-anchor="end" transform="rotate(-45 1182.2 1184.5)">0.1</text>
<line x1="1203.2" y1="1154.5" x2="1203.2" y2="1162.5" stroke="#000" stroke-width="1.5" />
<text x="1209.4" y="1184.5" font-size="18.3" text-anchor="end" transform="rotate(-45 1209.4 1184.5)">1</text>
<line x1="1230.5" y1="1154.5" x2="1230.5" y2="1162.5" stroke="#000" stroke-width="1.5" />
<text x="1236.7" y="1184.5" font-size="18.3" text-anchor="end" transform="rotate(-45 1236.7 1184.5)">10</text>
<line x1="1257.7" y1="1154.5" x2="1257.7" y2="1162.5" stroke="#000" stroke-width="1.5" />
<text x="1263.9" y="1184.5" font-size="18.3" text-anchor="end" transform="rotate(-45 1263.9 1184.5)">100</text>
<line x1="1284.9" y1="1154.5" x2="1284.9" y2="1162.5" stroke="#000" stroke-width="1.5" />
<text x="1291.1" y="1184.5" font-size="18.3" text-anchor="end" transform="rotate(-45 1291.1 1184.5)">1,000</text>
<line x1="1312.1" y1="1154.5" x2="1312.1" y2="1162.5" stroke="#000" stroke-width="1.5" />
<text x="1318.3" y="1184.5" font-size="18.3" text-anchor="end" transform="rotate(-45 1318.3 1184.5)">[+]</text>
<line x1="1339.3" y1="1154.5" x2="1339.3" y2="1162.5" stroke="#000" stroke-width="1.5" />
<text x="1345.5" y="1184.5" font-size="18.3" text-anchor="end" transform="rotate(-45 1345.5 1184.5)">[-]</text>
<line x1="1393.8" y1="1154.5" x2="1393.8" y2="1162.5" stroke="#000" stroke-width="1.5" />
<text x="1400" y="1184.5" font-size="18.3" text-anchor="end" transform="rotate(-45 1400 1184.5)">1,000</text>
<line x1="1421" y1="1154.5" x2="1421" y2="1162.5" stroke="#000" stroke-width="1.5" />
<text x="1427.2" y="1184.5" font-size="18.3" text-anchor="end" transform="rotate(-45 1427.2 1184.5)">[+]</text>
<line x1="1448.2" y1="1154.5" x2="1448.2" y2="1162.5" stroke="#000" stroke-width="1.5" />
<text x="1454.4" y="1184.5" font-size="18.3" text-anchor="end" transform="rotate(-45 1454.4 1184.5)">[-]</text>
<line x1="1502.7" y1="1154.5" x2="1502.7" y2="1162.5" stroke="#000" stroke-width="1.5" />
<text x="1508.9" y="1184.5" font-size="18.3" text-anchor="end" transform="rotate(-45 1508.9 1184.5)">1,000</text>
<line x1="1529.9" y1="1154.5" x2="1529.9" y2="1162.5" stroke="#000" stroke-width="1.5" />
<text x="1536.1" y="1184.5" font-size="18.3" text-anchor="end" transform="rotate(-45 1536.1 1184.5)">[+]</text>
<line x1="1557.1" y1="1154.5" x2="1557.1" y2="1162.5" stroke="#000" stroke-width="1.5" />
<text x="1563.3" y="1184.5" font-size="18.3" text-anchor="end" transform="rotate(-45 1563.3 1184.5)">[-]</text>
<line x1="1146.5" y1="883.1" x2="1209.2" y2="883.1" stroke="#000" stroke-width="2.3" />
<circle cx="1178.2" cy="883.1" r="6.1" fill="#000"/>
<text x="1245" y="889.9" font-size="19" textLength="75.3" lengthAdjust="spacing">TCR707</text>
<path d="M1148.8 1091.7 L1176 1092.2 L1203.2 1090 L1230.5 1069.6 L1257.7 981.5 L1284.9 973.6" fill="none" stroke="#000" stroke-width="2.8" stroke-linejoin="round"/>
<circle cx="1148.8" cy="1091.7" r="6.2" fill="#000"/>
<circle cx="1176" cy="1092.2" r="6.2" fill="#000"/>
<circle cx="1203.2" cy="1090" r="6.2" fill="#000"/>
<circle cx="1230.5" cy="1069.6" r="6.2" fill="#000"/>
<circle cx="1257.7" cy="981.5" r="6.2" fill="#000"/>
<circle cx="1284.9" cy="973.6" r="6.2" fill="#000"/>
<circle cx="1312.1" cy="989.1" r="6.2" fill="#000"/>
<circle cx="1339.3" cy="1090.8" r="6.2" fill="#000"/>
<circle cx="1393.8" cy="1088.6" r="6.2" fill="#000"/>
<circle cx="1421" cy="1007.8" r="6.2" fill="#000"/>
<circle cx="1448.2" cy="1088" r="6.2" fill="#000"/>
<circle cx="1502.7" cy="1085.7" r="6.2" fill="#000"/>
<circle cx="1529.9" cy="1091.7" r="6.2" fill="#000"/>
<circle cx="1557.1" cy="1086.6" r="6.2" fill="#000"/>
<text x="1872.8" y="823.7" font-size="28.6" text-anchor="middle" textLength="180.5" lengthAdjust="spacing">Patient 0506</text>
<text x="1719" y="862.3" font-size="24.3" textLength="119" lengthAdjust="spacingAndGlyphs">Gene Edited</text>
<text x="1928.5" y="862.3" font-size="24.3" textLength="37.5" lengthAdjust="spacingAndGlyphs">WT</text>
<text x="2031" y="862.3" font-size="24.3" textLength="32" lengthAdjust="spacingAndGlyphs">KO</text>
<line x1="1887.4" y1="866.5" x2="1887.4" y2="1154.5" stroke="#333" stroke-width="1.4" stroke-dasharray="2 2.4"/>
<line x1="1996.2" y1="866.5" x2="1996.2" y2="1154.5" stroke="#333" stroke-width="1.4" stroke-dasharray="2 2.4"/>
<rect x="1656" y="864.5" width="435.5" height="290" fill="none" stroke="#111" stroke-width="1.8"/>
<line x1="1648.5" y1="864.5" x2="1656" y2="864.5" stroke="#000" stroke-width="1.5" />
<line x1="1652" y1="908.1" x2="1656" y2="908.1" stroke="#000" stroke-width="1.3" />
<line x1="1652" y1="933.7" x2="1656" y2="933.7" stroke="#000" stroke-width="1.3" />
<line x1="1652" y1="951.8" x2="1656" y2="951.8" stroke="#000" stroke-width="1.3" />
<line x1="1652" y1="965.9" x2="1656" y2="965.9" stroke="#000" stroke-width="1.3" />
<line x1="1652" y1="977.3" x2="1656" y2="977.3" stroke="#000" stroke-width="1.3" />
<line x1="1652" y1="987" x2="1656" y2="987" stroke="#000" stroke-width="1.3" />
<line x1="1652" y1="995.4" x2="1656" y2="995.4" stroke="#000" stroke-width="1.3" />
<line x1="1652" y1="1002.9" x2="1656" y2="1002.9" stroke="#000" stroke-width="1.3" />
<line x1="1648.5" y1="1009.5" x2="1656" y2="1009.5" stroke="#000" stroke-width="1.5" />
<line x1="1652" y1="1053.1" x2="1656" y2="1053.1" stroke="#000" stroke-width="1.3" />
<line x1="1652" y1="1078.7" x2="1656" y2="1078.7" stroke="#000" stroke-width="1.3" />
<line x1="1652" y1="1096.8" x2="1656" y2="1096.8" stroke="#000" stroke-width="1.3" />
<line x1="1652" y1="1110.9" x2="1656" y2="1110.9" stroke="#000" stroke-width="1.3" />
<line x1="1652" y1="1122.3" x2="1656" y2="1122.3" stroke="#000" stroke-width="1.3" />
<line x1="1652" y1="1132" x2="1656" y2="1132" stroke="#000" stroke-width="1.3" />
<line x1="1652" y1="1140.4" x2="1656" y2="1140.4" stroke="#000" stroke-width="1.3" />
<line x1="1652" y1="1147.9" x2="1656" y2="1147.9" stroke="#000" stroke-width="1.3" />
<line x1="1648.5" y1="1154.5" x2="1656" y2="1154.5" stroke="#000" stroke-width="1.5" />
<line x1="1669.6" y1="1154.5" x2="1669.6" y2="1162.5" stroke="#000" stroke-width="1.5" />
<text x="1675.8" y="1184.5" font-size="18.3" text-anchor="end" transform="rotate(-45 1675.8 1184.5)">0</text>
<line x1="1696.8" y1="1154.5" x2="1696.8" y2="1162.5" stroke="#000" stroke-width="1.5" />
<text x="1703" y="1184.5" font-size="18.3" text-anchor="end" transform="rotate(-45 1703 1184.5)">0.1</text>
<line x1="1724" y1="1154.5" x2="1724" y2="1162.5" stroke="#000" stroke-width="1.5" />
<text x="1730.2" y="1184.5" font-size="18.3" text-anchor="end" transform="rotate(-45 1730.2 1184.5)">1</text>
<line x1="1751.3" y1="1154.5" x2="1751.3" y2="1162.5" stroke="#000" stroke-width="1.5" />
<text x="1757.5" y="1184.5" font-size="18.3" text-anchor="end" transform="rotate(-45 1757.5 1184.5)">10</text>
<line x1="1778.5" y1="1154.5" x2="1778.5" y2="1162.5" stroke="#000" stroke-width="1.5" />
<text x="1784.7" y="1184.5" font-size="18.3" text-anchor="end" transform="rotate(-45 1784.7 1184.5)">100</text>
<line x1="1805.7" y1="1154.5" x2="1805.7" y2="1162.5" stroke="#000" stroke-width="1.5" />
<text x="1811.9" y="1184.5" font-size="18.3" text-anchor="end" transform="rotate(-45 1811.9 1184.5)">1,000</text>
<line x1="1832.9" y1="1154.5" x2="1832.9" y2="1162.5" stroke="#000" stroke-width="1.5" />
<text x="1839.1" y="1184.5" font-size="18.3" text-anchor="end" transform="rotate(-45 1839.1 1184.5)">[+]</text>
<line x1="1860.1" y1="1154.5" x2="1860.1" y2="1162.5" stroke="#000" stroke-width="1.5" />
<text x="1866.3" y="1184.5" font-size="18.3" text-anchor="end" transform="rotate(-45 1866.3 1184.5)">[-]</text>
<line x1="1914.6" y1="1154.5" x2="1914.6" y2="1162.5" stroke="#000" stroke-width="1.5" />
<text x="1920.8" y="1184.5" font-size="18.3" text-anchor="end" transform="rotate(-45 1920.8 1184.5)">1,000</text>
<line x1="1941.8" y1="1154.5" x2="1941.8" y2="1162.5" stroke="#000" stroke-width="1.5" />
<text x="1948" y="1184.5" font-size="18.3" text-anchor="end" transform="rotate(-45 1948 1184.5)">[+]</text>
<line x1="1969" y1="1154.5" x2="1969" y2="1162.5" stroke="#000" stroke-width="1.5" />
<text x="1975.2" y="1184.5" font-size="18.3" text-anchor="end" transform="rotate(-45 1975.2 1184.5)">[-]</text>
<line x1="2023.5" y1="1154.5" x2="2023.5" y2="1162.5" stroke="#000" stroke-width="1.5" />
<text x="2029.7" y="1184.5" font-size="18.3" text-anchor="end" transform="rotate(-45 2029.7 1184.5)">1,000</text>
<line x1="2050.7" y1="1154.5" x2="2050.7" y2="1162.5" stroke="#000" stroke-width="1.5" />
<text x="2056.9" y="1184.5" font-size="18.3" text-anchor="end" transform="rotate(-45 2056.9 1184.5)">[+]</text>
<line x1="2077.9" y1="1154.5" x2="2077.9" y2="1162.5" stroke="#000" stroke-width="1.5" />
<text x="2084.1" y="1184.5" font-size="18.3" text-anchor="end" transform="rotate(-45 2084.1 1184.5)">[-]</text>
<line x1="1670.3" y1="883.1" x2="1732.7" y2="883.1" stroke="#000" stroke-width="2.3" />
<circle cx="1701.1" cy="883.1" r="6.1" fill="#000"/>
<text x="1768.4" y="889.9" font-size="19" textLength="75.3" lengthAdjust="spacing">TCR696</text>
<line x1="1670.3" y1="910.5" x2="1732.7" y2="910.5" stroke="#000" stroke-width="2.3" />
<rect x="1695" y="904.4" width="12.2" height="12.2" fill="#000"/>
<text x="1768.4" y="917.3" font-size="19" textLength="75.3" lengthAdjust="spacing">TCR692</text>
<line x1="1670.3" y1="936.7" x2="1732.7" y2="936.7" stroke="#000" stroke-width="2.3" />
<path d="M1701.1 930.6L1707.2 942.8L1695 942.8Z" fill="#000"/>
<text x="1768.4" y="943.5" font-size="19" textLength="75.3" lengthAdjust="spacing">TCR691</text>
<path d="M1669.6 1100.2 L1696.8 1102.9 L1724 1101.5 L1751.3 1101.5 L1778.5 1099.6 L1805.7 1062.1" fill="none" stroke="#000" stroke-width="2.8" stroke-linejoin="round"/>
<circle cx="1669.6" cy="1100.2" r="6.2" fill="#000"/>
<circle cx="1696.8" cy="1102.9" r="6.2" fill="#000"/>
<circle cx="1724" cy="1101.5" r="6.2" fill="#000"/>
<circle cx="1751.3" cy="1101.5" r="6.2" fill="#000"/>
<circle cx="1778.5" cy="1099.6" r="6.2" fill="#000"/>
<circle cx="1805.7" cy="1062.1" r="6.2" fill="#000"/>
<circle cx="1832.9" cy="989.5" r="6.2" fill="#000"/>
<circle cx="1860.1" cy="1100.2" r="6.2" fill="#000"/>
<circle cx="1914.6" cy="1091.6" r="6.2" fill="#000"/>
<circle cx="1941.8" cy="968.4" r="6.2" fill="#000"/>
<circle cx="1969" cy="1094.8" r="6.2" fill="#000"/>
<circle cx="2023.5" cy="1093.5" r="6.2" fill="#000"/>
<circle cx="2050.7" cy="1079.5" r="6.2" fill="#000"/>
<circle cx="2077.9" cy="1096.2" r="6.2" fill="#000"/>
<path d="M1669.6 1096.2 L1696.8 1095.3 L1724 1097.5 L1751.3 1096.2 L1778.5 1068 L1805.7 1025.1" fill="none" stroke="#000" stroke-width="2.8" stroke-linejoin="round"/>
<rect x="1663.4" y="1090" width="12.4" height="12.4" fill="#000"/>
<rect x="1690.6" y="1089.1" width="12.4" height="12.4" fill="#000"/>
<rect x="1717.8" y="1091.3" width="12.4" height="12.4" fill="#000"/>
<rect x="1745.1" y="1090" width="12.4" height="12.4" fill="#000"/>
<rect x="1772.3" y="1061.8" width="12.4" height="12.4" fill="#000"/>
<rect x="1799.5" y="1018.9" width="12.4" height="12.4" fill="#000"/>
<rect x="1826.7" y="959.5" width="12.4" height="12.4" fill="#000"/>
<rect x="1853.9" y="1092.6" width="12.4" height="12.4" fill="#000"/>
<rect x="1908.4" y="1091.3" width="12.4" height="12.4" fill="#000"/>
<rect x="1935.6" y="954.6" width="12.4" height="12.4" fill="#000"/>
<rect x="1962.8" y="1092.6" width="12.4" height="12.4" fill="#000"/>
<rect x="2017.3" y="1077.9" width="12.4" height="12.4" fill="#000"/>
<rect x="2044.5" y="1044.9" width="12.4" height="12.4" fill="#000"/>
<rect x="2071.7" y="1079.2" width="12.4" height="12.4" fill="#000"/>
<path d="M1669.6 1098.8 L1696.8 1098.8 L1724 1098.8 L1751.3 1093.5 L1778.5 1062.7 L1805.7 1017.1" fill="none" stroke="#000" stroke-width="2.8" stroke-linejoin="round"/>
<path d="M1669.6 1092.6L1675.8 1105L1663.4 1105Z" fill="#000"/>
<path d="M1696.8 1092.6L1703 1105L1690.6 1105Z" fill="#000"/>
<path d="M1724 1092.6L1730.2 1105L1717.8 1105Z" fill="#000"/>
<path d="M1751.3 1087.3L1757.5 1099.7L1745.1 1099.7Z" fill="#000"/>
<path d="M1778.5 1056.5L1784.7 1068.9L1772.3 1068.9Z" fill="#000"/>
<path d="M1805.7 1010.9L1811.9 1023.3L1799.5 1023.3Z" fill="#000"/>
<path d="M1832.9 970.7L1839.1 983.1L1826.7 983.1Z" fill="#000"/>
<path d="M1860.1 1092.6L1866.3 1105L1853.9 1105Z" fill="#000"/>
<path d="M1914.6 1088.8L1920.8 1101.2L1908.4 1101.2Z" fill="#000"/>
<path d="M1941.8 957.8L1948 970.2L1935.6 970.2Z" fill="#000"/>
<path d="M1969 1092.6L1975.2 1105L1962.8 1105Z" fill="#000"/>
<path d="M2023.5 1081.9L2029.7 1094.3L2017.3 1094.3Z" fill="#000"/>
<path d="M2050.7 1083.3L2056.9 1095.7L2044.5 1095.7Z" fill="#000"/>
<path d="M2077.9 1081.9L2084.1 1094.3L2071.7 1094.3Z" fill="#000"/>
<text x="304.1" y="1265.6" font-size="28.6" text-anchor="middle" textLength="180.5" lengthAdjust="spacing">Patient 0503</text>
<text x="150.4" y="1304.2" font-size="24.3" textLength="119" lengthAdjust="spacingAndGlyphs">Gene Edited</text>
<text x="359.9" y="1304.2" font-size="24.3" textLength="37.5" lengthAdjust="spacingAndGlyphs">WT</text>
<text x="462.4" y="1304.2" font-size="24.3" textLength="32" lengthAdjust="spacingAndGlyphs">KO</text>
<line x1="318.8" y1="1308.4" x2="318.8" y2="1596.4" stroke="#333" stroke-width="1.4" stroke-dasharray="2 2.4"/>
<line x1="427.6" y1="1308.4" x2="427.6" y2="1596.4" stroke="#333" stroke-width="1.4" stroke-dasharray="2 2.4"/>
<rect x="87.4" y="1306.4" width="435.5" height="290" fill="none" stroke="#111" stroke-width="1.8"/>
<line x1="79.9" y1="1306.4" x2="87.4" y2="1306.4" stroke="#000" stroke-width="1.5" />
<line x1="83.4" y1="1350" x2="87.4" y2="1350" stroke="#000" stroke-width="1.3" />
<line x1="83.4" y1="1375.6" x2="87.4" y2="1375.6" stroke="#000" stroke-width="1.3" />
<line x1="83.4" y1="1393.7" x2="87.4" y2="1393.7" stroke="#000" stroke-width="1.3" />
<line x1="83.4" y1="1407.8" x2="87.4" y2="1407.8" stroke="#000" stroke-width="1.3" />
<line x1="83.4" y1="1419.2" x2="87.4" y2="1419.2" stroke="#000" stroke-width="1.3" />
<line x1="83.4" y1="1428.9" x2="87.4" y2="1428.9" stroke="#000" stroke-width="1.3" />
<line x1="83.4" y1="1437.3" x2="87.4" y2="1437.3" stroke="#000" stroke-width="1.3" />
<line x1="83.4" y1="1444.8" x2="87.4" y2="1444.8" stroke="#000" stroke-width="1.3" />
<line x1="79.9" y1="1451.4" x2="87.4" y2="1451.4" stroke="#000" stroke-width="1.5" />
<line x1="83.4" y1="1495" x2="87.4" y2="1495" stroke="#000" stroke-width="1.3" />
<line x1="83.4" y1="1520.6" x2="87.4" y2="1520.6" stroke="#000" stroke-width="1.3" />
<line x1="83.4" y1="1538.7" x2="87.4" y2="1538.7" stroke="#000" stroke-width="1.3" />
<line x1="83.4" y1="1552.8" x2="87.4" y2="1552.8" stroke="#000" stroke-width="1.3" />
<line x1="83.4" y1="1564.2" x2="87.4" y2="1564.2" stroke="#000" stroke-width="1.3" />
<line x1="83.4" y1="1573.9" x2="87.4" y2="1573.9" stroke="#000" stroke-width="1.3" />
<line x1="83.4" y1="1582.3" x2="87.4" y2="1582.3" stroke="#000" stroke-width="1.3" />
<line x1="83.4" y1="1589.8" x2="87.4" y2="1589.8" stroke="#000" stroke-width="1.3" />
<line x1="79.9" y1="1596.4" x2="87.4" y2="1596.4" stroke="#000" stroke-width="1.5" />
<line x1="101" y1="1596.4" x2="101" y2="1604.4" stroke="#000" stroke-width="1.5" />
<text x="107.2" y="1626.4" font-size="18.3" text-anchor="end" transform="rotate(-45 107.2 1626.4)">0</text>
<line x1="128.2" y1="1596.4" x2="128.2" y2="1604.4" stroke="#000" stroke-width="1.5" />
<text x="134.4" y="1626.4" font-size="18.3" text-anchor="end" transform="rotate(-45 134.4 1626.4)">0.1</text>
<line x1="155.4" y1="1596.4" x2="155.4" y2="1604.4" stroke="#000" stroke-width="1.5" />
<text x="161.6" y="1626.4" font-size="18.3" text-anchor="end" transform="rotate(-45 161.6 1626.4)">1</text>
<line x1="182.7" y1="1596.4" x2="182.7" y2="1604.4" stroke="#000" stroke-width="1.5" />
<text x="188.9" y="1626.4" font-size="18.3" text-anchor="end" transform="rotate(-45 188.9 1626.4)">10</text>
<line x1="209.9" y1="1596.4" x2="209.9" y2="1604.4" stroke="#000" stroke-width="1.5" />
<text x="216.1" y="1626.4" font-size="18.3" text-anchor="end" transform="rotate(-45 216.1 1626.4)">100</text>
<line x1="237.1" y1="1596.4" x2="237.1" y2="1604.4" stroke="#000" stroke-width="1.5" />
<text x="243.3" y="1626.4" font-size="18.3" text-anchor="end" transform="rotate(-45 243.3 1626.4)">1,000</text>
<line x1="264.3" y1="1596.4" x2="264.3" y2="1604.4" stroke="#000" stroke-width="1.5" />
<text x="270.5" y="1626.4" font-size="18.3" text-anchor="end" transform="rotate(-45 270.5 1626.4)">[+]</text>
<line x1="291.5" y1="1596.4" x2="291.5" y2="1604.4" stroke="#000" stroke-width="1.5" />
<text x="297.7" y="1626.4" font-size="18.3" text-anchor="end" transform="rotate(-45 297.7 1626.4)">[-]</text>
<line x1="346" y1="1596.4" x2="346" y2="1604.4" stroke="#000" stroke-width="1.5" />
<text x="352.2" y="1626.4" font-size="18.3" text-anchor="end" transform="rotate(-45 352.2 1626.4)">1,000</text>
<line x1="373.2" y1="1596.4" x2="373.2" y2="1604.4" stroke="#000" stroke-width="1.5" />
<text x="379.4" y="1626.4" font-size="18.3" text-anchor="end" transform="rotate(-45 379.4 1626.4)">[+]</text>
<line x1="400.4" y1="1596.4" x2="400.4" y2="1604.4" stroke="#000" stroke-width="1.5" />
<text x="406.6" y="1626.4" font-size="18.3" text-anchor="end" transform="rotate(-45 406.6 1626.4)">[-]</text>
<line x1="454.9" y1="1596.4" x2="454.9" y2="1604.4" stroke="#000" stroke-width="1.5" />
<text x="461.1" y="1626.4" font-size="18.3" text-anchor="end" transform="rotate(-45 461.1 1626.4)">1,000</text>
<line x1="482.1" y1="1596.4" x2="482.1" y2="1604.4" stroke="#000" stroke-width="1.5" />
<text x="488.3" y="1626.4" font-size="18.3" text-anchor="end" transform="rotate(-45 488.3 1626.4)">[+]</text>
<line x1="509.3" y1="1596.4" x2="509.3" y2="1604.4" stroke="#000" stroke-width="1.5" />
<text x="515.5" y="1626.4" font-size="18.3" text-anchor="end" transform="rotate(-45 515.5 1626.4)">[-]</text>
<text x="43.2" y="1313.5" font-size="19.8">10</text>
<text x="66.2" y="1307.7" font-size="13.6">3</text>
<text x="43.2" y="1458.5" font-size="19.8">10</text>
<text x="66.2" y="1452.7" font-size="13.6">4</text>
<text x="43.2" y="1603.5" font-size="19.8">10</text>
<text x="66.2" y="1597.7" font-size="13.6">5</text>
<text x="26.6" y="1558.9" font-size="28.6" textLength="179" lengthAdjust="spacing" transform="rotate(-90 26.6 1558.9)">ViaFluor MFI</text>
<line x1="99.6" y1="1535" x2="162" y2="1535" stroke="#000" stroke-width="2.3" />
<circle cx="131" cy="1535" r="6.1" fill="#000"/>
<text x="198.3" y="1541.8" font-size="19" textLength="75.3" lengthAdjust="spacing">TCR687</text>
<line x1="99.6" y1="1560.8" x2="162" y2="1560.8" stroke="#000" stroke-width="2.3" />
<rect x="124.9" y="1554.7" width="12.2" height="12.2" fill="#000"/>
<text x="198.3" y="1567.6" font-size="19" textLength="75.3" lengthAdjust="spacing">TCR689</text>
<line x1="99.6" y1="1587.2" x2="162" y2="1587.2" stroke="#000" stroke-width="2.3" />
<path d="M131 1581.1L137.1 1593.3L124.9 1593.3Z" fill="#000"/>
<text x="198.3" y="1594" font-size="19" textLength="75.3" lengthAdjust="spacing">TCR682</text>
<path d="M101 1496.9 L128.2 1495.5 L155.4 1496.9 L182.7 1495.5 L209.9 1475 L237.1 1368" fill="none" stroke="#000" stroke-width="2.8" stroke-linejoin="round"/>
<circle cx="101" cy="1496.9" r="6.2" fill="#000"/>
<circle cx="128.2" cy="1495.5" r="6.2" fill="#000"/>
<circle cx="155.4" cy="1496.9" r="6.2" fill="#000"/>
<circle cx="182.7" cy="1495.5" r="6.2" fill="#000"/>
<circle cx="209.9" cy="1475" r="6.2" fill="#000"/>
<circle cx="237.1" cy="1368" r="6.2" fill="#000"/>
<circle cx="264.3" cy="1364.2" r="6.2" fill="#000"/>
<circle cx="291.5" cy="1495.5" r="6.2" fill="#000"/>
<circle cx="346" cy="1491" r="6.2" fill="#000"/>
<circle cx="373.2" cy="1359.2" r="6.2" fill="#000"/>
<circle cx="400.4" cy="1491" r="6.2" fill="#000"/>
<circle cx="454.9" cy="1493.1" r="6.2" fill="#000"/>
<circle cx="482.1" cy="1501.9" r="6.2" fill="#000"/>
<circle cx="509.3" cy="1497.5" r="6.2" fill="#000"/>
<path d="M101 1518.9 L128.2 1518 L155.4 1518 L182.7 1517.4 L209.9 1505.7 L237.1 1390" fill="none" stroke="#000" stroke-width="2.8" stroke-linejoin="round"/>
<rect x="94.8" y="1512.7" width="12.4" height="12.4" fill="#000"/>
<rect x="122" y="1511.8" width="12.4" height="12.4" fill="#000"/>
<rect x="149.2" y="1511.8" width="12.4" height="12.4" fill="#000"/>
<rect x="176.5" y="1511.2" width="12.4" height="12.4" fill="#000"/>
<rect x="203.7" y="1499.5" width="12.4" height="12.4" fill="#000"/>
<rect x="230.9" y="1383.8" width="12.4" height="12.4" fill="#000"/>
<rect x="258.1" y="1377.3" width="12.4" height="12.4" fill="#000"/>
<rect x="285.3" y="1511.2" width="12.4" height="12.4" fill="#000"/>
<rect x="339.8" y="1493.7" width="12.4" height="12.4" fill="#000"/>
<rect x="367" y="1375.8" width="12.4" height="12.4" fill="#000"/>
<rect x="394.2" y="1506" width="12.4" height="12.4" fill="#000"/>
<rect x="448.7" y="1510.4" width="12.4" height="12.4" fill="#000"/>
<rect x="475.9" y="1519.4" width="12.4" height="12.4" fill="#000"/>
<rect x="503.1" y="1511.8" width="12.4" height="12.4" fill="#000"/>
<path d="M101 1483.7 L128.2 1485.2 L155.4 1482.3 L182.7 1463.8 L209.9 1379.7 L237.1 1344.5" fill="none" stroke="#000" stroke-width="2.8" stroke-linejoin="round"/>
<path d="M101 1477.5L107.2 1489.9L94.8 1489.9Z" fill="#000"/>
<path d="M128.2 1479L134.4 1491.4L122 1491.4Z" fill="#000"/>
<path d="M155.4 1476.1L161.6 1488.5L149.2 1488.5Z" fill="#000"/>
<path d="M182.7 1457.6L188.9 1470L176.5 1470Z" fill="#000"/>
<path d="M209.9 1373.5L216.1 1385.9L203.7 1385.9Z" fill="#000"/>
<path d="M237.1 1338.3L243.3 1350.7L230.9 1350.7Z" fill="#000"/>
<path d="M264.3 1333.9L270.5 1346.3L258.1 1346.3Z" fill="#000"/>
<path d="M291.5 1460L297.7 1472.4L285.3 1472.4Z" fill="#000"/>
<path d="M346 1461.4L352.2 1473.8L339.8 1473.8Z" fill="#000"/>
<path d="M373.2 1335.4L379.4 1347.8L367 1347.8Z" fill="#000"/>
<path d="M400.4 1468.8L406.6 1481.2L394.2 1481.2Z" fill="#000"/>
<path d="M454.9 1462.3L461.1 1474.7L448.7 1474.7Z" fill="#000"/>
<path d="M482.1 1458.5L488.3 1470.9L475.9 1470.9Z" fill="#000"/>
<path d="M509.3 1477.5L515.5 1489.9L503.1 1489.9Z" fill="#000"/>
<text x="829" y="1265.6" font-size="28.6" text-anchor="middle" textLength="180.5" lengthAdjust="spacing">Patient 0030</text>
<text x="675.3" y="1304.2" font-size="24.3" textLength="119" lengthAdjust="spacingAndGlyphs">Gene Edited</text>
<text x="884.8" y="1304.2" font-size="24.3" textLength="37.5" lengthAdjust="spacingAndGlyphs">WT</text>
<text x="987.3" y="1304.2" font-size="24.3" textLength="32" lengthAdjust="spacingAndGlyphs">KO</text>
<line x1="843.7" y1="1308.4" x2="843.7" y2="1596.4" stroke="#333" stroke-width="1.4" stroke-dasharray="2 2.4"/>
<line x1="952.5" y1="1308.4" x2="952.5" y2="1596.4" stroke="#333" stroke-width="1.4" stroke-dasharray="2 2.4"/>
<rect x="612.3" y="1306.4" width="435.5" height="290" fill="none" stroke="#111" stroke-width="1.8"/>
<line x1="604.8" y1="1306.4" x2="612.3" y2="1306.4" stroke="#000" stroke-width="1.5" />
<line x1="608.3" y1="1350" x2="612.3" y2="1350" stroke="#000" stroke-width="1.3" />
<line x1="608.3" y1="1375.6" x2="612.3" y2="1375.6" stroke="#000" stroke-width="1.3" />
<line x1="608.3" y1="1393.7" x2="612.3" y2="1393.7" stroke="#000" stroke-width="1.3" />
<line x1="608.3" y1="1407.8" x2="612.3" y2="1407.8" stroke="#000" stroke-width="1.3" />
<line x1="608.3" y1="1419.2" x2="612.3" y2="1419.2" stroke="#000" stroke-width="1.3" />
<line x1="608.3" y1="1428.9" x2="612.3" y2="1428.9" stroke="#000" stroke-width="1.3" />
<line x1="608.3" y1="1437.3" x2="612.3" y2="1437.3" stroke="#000" stroke-width="1.3" />
<line x1="608.3" y1="1444.8" x2="612.3" y2="1444.8" stroke="#000" stroke-width="1.3" />
<line x1="604.8" y1="1451.4" x2="612.3" y2="1451.4" stroke="#000" stroke-width="1.5" />
<line x1="608.3" y1="1495" x2="612.3" y2="1495" stroke="#000" stroke-width="1.3" />
<line x1="608.3" y1="1520.6" x2="612.3" y2="1520.6" stroke="#000" stroke-width="1.3" />
<line x1="608.3" y1="1538.7" x2="612.3" y2="1538.7" stroke="#000" stroke-width="1.3" />
<line x1="608.3" y1="1552.8" x2="612.3" y2="1552.8" stroke="#000" stroke-width="1.3" />
<line x1="608.3" y1="1564.2" x2="612.3" y2="1564.2" stroke="#000" stroke-width="1.3" />
<line x1="608.3" y1="1573.9" x2="612.3" y2="1573.9" stroke="#000" stroke-width="1.3" />
<line x1="608.3" y1="1582.3" x2="612.3" y2="1582.3" stroke="#000" stroke-width="1.3" />
<line x1="608.3" y1="1589.8" x2="612.3" y2="1589.8" stroke="#000" stroke-width="1.3" />
<line x1="604.8" y1="1596.4" x2="612.3" y2="1596.4" stroke="#000" stroke-width="1.5" />
<line x1="625.9" y1="1596.4" x2="625.9" y2="1604.4" stroke="#000" stroke-width="1.5" />
<text x="632.1" y="1626.4" font-size="18.3" text-anchor="end" transform="rotate(-45 632.1 1626.4)">0</text>
<line x1="653.1" y1="1596.4" x2="653.1" y2="1604.4" stroke="#000" stroke-width="1.5" />
<text x="659.3" y="1626.4" font-size="18.3" text-anchor="end" transform="rotate(-45 659.3 1626.4)">0.1</text>
<line x1="680.3" y1="1596.4" x2="680.3" y2="1604.4" stroke="#000" stroke-width="1.5" />
<text x="686.5" y="1626.4" font-size="18.3" text-anchor="end" transform="rotate(-45 686.5 1626.4)">1</text>
<line x1="707.6" y1="1596.4" x2="707.6" y2="1604.4" stroke="#000" stroke-width="1.5" />
<text x="713.8" y="1626.4" font-size="18.3" text-anchor="end" transform="rotate(-45 713.8 1626.4)">10</text>
<line x1="734.8" y1="1596.4" x2="734.8" y2="1604.4" stroke="#000" stroke-width="1.5" />
<text x="741" y="1626.4" font-size="18.3" text-anchor="end" transform="rotate(-45 741 1626.4)">100</text>
<line x1="762" y1="1596.4" x2="762" y2="1604.4" stroke="#000" stroke-width="1.5" />
<text x="768.2" y="1626.4" font-size="18.3" text-anchor="end" transform="rotate(-45 768.2 1626.4)">1,000</text>
<line x1="789.2" y1="1596.4" x2="789.2" y2="1604.4" stroke="#000" stroke-width="1.5" />
<text x="795.4" y="1626.4" font-size="18.3" text-anchor="end" transform="rotate(-45 795.4 1626.4)">[+]</text>
<line x1="816.4" y1="1596.4" x2="816.4" y2="1604.4" stroke="#000" stroke-width="1.5" />
<text x="822.6" y="1626.4" font-size="18.3" text-anchor="end" transform="rotate(-45 822.6 1626.4)">[-]</text>
<line x1="870.9" y1="1596.4" x2="870.9" y2="1604.4" stroke="#000" stroke-width="1.5" />
<text x="877.1" y="1626.4" font-size="18.3" text-anchor="end" transform="rotate(-45 877.1 1626.4)">1,000</text>
<line x1="898.1" y1="1596.4" x2="898.1" y2="1604.4" stroke="#000" stroke-width="1.5" />
<text x="904.3" y="1626.4" font-size="18.3" text-anchor="end" transform="rotate(-45 904.3 1626.4)">[+]</text>
<line x1="925.3" y1="1596.4" x2="925.3" y2="1604.4" stroke="#000" stroke-width="1.5" />
<text x="931.5" y="1626.4" font-size="18.3" text-anchor="end" transform="rotate(-45 931.5 1626.4)">[-]</text>
<line x1="979.8" y1="1596.4" x2="979.8" y2="1604.4" stroke="#000" stroke-width="1.5" />
<text x="986" y="1626.4" font-size="18.3" text-anchor="end" transform="rotate(-45 986 1626.4)">1,000</text>
<line x1="1007" y1="1596.4" x2="1007" y2="1604.4" stroke="#000" stroke-width="1.5" />
<text x="1013.2" y="1626.4" font-size="18.3" text-anchor="end" transform="rotate(-45 1013.2 1626.4)">[+]</text>
<line x1="1034.2" y1="1596.4" x2="1034.2" y2="1604.4" stroke="#000" stroke-width="1.5" />
<text x="1040.4" y="1626.4" font-size="18.3" text-anchor="end" transform="rotate(-45 1040.4 1626.4)">[-]</text>
<line x1="627.3" y1="1528.6" x2="689.4" y2="1528.6" stroke="#000" stroke-width="2.3" />
<circle cx="658.3" cy="1528.6" r="6.1" fill="#000"/>
<text x="724.3" y="1535.4" font-size="19" textLength="75.3" lengthAdjust="spacing">TCR798</text>
<line x1="627.3" y1="1554.8" x2="689.4" y2="1554.8" stroke="#000" stroke-width="2.3" />
<circle cx="658.3" cy="1554.8" r="6.1" fill="#000"/>
<text x="724.3" y="1561.6" font-size="19" textLength="75.3" lengthAdjust="spacing">TCR800</text>
<line x1="627.3" y1="1581.7" x2="689.4" y2="1581.7" stroke="#000" stroke-width="2.3" />
<circle cx="658.3" cy="1581.7" r="6.1" fill="#000"/>
<text x="724.3" y="1588.5" font-size="19" textLength="75.3" lengthAdjust="spacing">TCR802</text>
<path d="M625.9 1498.3 L653.1 1434.8 L680.3 1392.4 L707.6 1379.6 L734.8 1368.3 L762 1357" fill="none" stroke="#000" stroke-width="2.8" stroke-linejoin="round"/>
<circle cx="625.9" cy="1498.3" r="6.2" fill="#000"/>
<circle cx="653.1" cy="1434.8" r="6.2" fill="#000"/>
<circle cx="680.3" cy="1392.4" r="6.2" fill="#000"/>
<circle cx="707.6" cy="1379.6" r="6.2" fill="#000"/>
<circle cx="734.8" cy="1368.3" r="6.2" fill="#000"/>
<circle cx="762" cy="1357" r="6.2" fill="#000"/>
<circle cx="789.2" cy="1344.3" r="6.2" fill="#000"/>
<circle cx="816.4" cy="1481.9" r="6.2" fill="#000"/>
<circle cx="870.9" cy="1481.4" r="6.2" fill="#000"/>
<circle cx="898.1" cy="1344.3" r="6.2" fill="#000"/>
<circle cx="925.3" cy="1484.8" r="6.2" fill="#000"/>
<circle cx="979.8" cy="1479.4" r="6.2" fill="#000"/>
<circle cx="1007" cy="1457.4" r="6.2" fill="#000"/>
<circle cx="1034.2" cy="1484.8" r="6.2" fill="#000"/>
<path d="M625.9 1501.2 L653.1 1484.2 L680.3 1413.6 L707.6 1381.1 L734.8 1372.6 L762 1358.5" fill="none" stroke="#000" stroke-width="2.8" stroke-linejoin="round"/>
<circle cx="625.9" cy="1501.2" r="6.2" fill="#000"/>
<circle cx="653.1" cy="1484.2" r="6.2" fill="#000"/>
<circle cx="680.3" cy="1413.6" r="6.2" fill="#000"/>
<circle cx="707.6" cy="1381.1" r="6.2" fill="#000"/>
<circle cx="734.8" cy="1372.6" r="6.2" fill="#000"/>
<circle cx="762" cy="1358.5" r="6.2" fill="#000"/>
<circle cx="789.2" cy="1352.8" r="6.2" fill="#000"/>
<circle cx="816.4" cy="1499.7" r="6.2" fill="#000"/>
<circle cx="870.9" cy="1491.3" r="6.2" fill="#000"/>
<circle cx="898.1" cy="1348.6" r="6.2" fill="#000"/>
<circle cx="925.3" cy="1487" r="6.2" fill="#000"/>
<circle cx="979.8" cy="1487" r="6.2" fill="#000"/>
<circle cx="1007" cy="1474.3" r="6.2" fill="#000"/>
<circle cx="1034.2" cy="1487" r="6.2" fill="#000"/>
<path d="M625.9 1502.6 L653.1 1492.7 L680.3 1439 L707.6 1385.3 L734.8 1376.8 L762 1358.5" fill="none" stroke="#000" stroke-width="2.8" stroke-linejoin="round"/>
<circle cx="625.9" cy="1502.6" r="6.2" fill="#000"/>
<circle cx="653.1" cy="1492.7" r="6.2" fill="#000"/>
<circle cx="680.3" cy="1439" r="6.2" fill="#000"/>
<circle cx="707.6" cy="1385.3" r="6.2" fill="#000"/>
<circle cx="734.8" cy="1376.8" r="6.2" fill="#000"/>
<circle cx="762" cy="1358.5" r="6.2" fill="#000"/>
<circle cx="979.8" cy="1491.3" r="6.2" fill="#000"/>
<circle cx="1007" cy="1492.7" r="6.2" fill="#000"/>
<circle cx="1034.2" cy="1488.4" r="6.2" fill="#000"/>
<text x="1352" y="1265.6" font-size="28.6" text-anchor="middle" textLength="180.5" lengthAdjust="spacing">Patient 0404</text>
<text x="1198.2" y="1304.2" font-size="24.3" textLength="119" lengthAdjust="spacingAndGlyphs">Gene Edited</text>
<text x="1407.7" y="1304.2" font-size="24.3" textLength="37.5" lengthAdjust="spacingAndGlyphs">WT</text>
<text x="1510.2" y="1304.2" font-size="24.3" textLength="32" lengthAdjust="spacingAndGlyphs">KO</text>
<line x1="1366.6" y1="1308.4" x2="1366.6" y2="1596.4" stroke="#333" stroke-width="1.4" stroke-dasharray="2 2.4"/>
<line x1="1475.4" y1="1308.4" x2="1475.4" y2="1596.4" stroke="#333" stroke-width="1.4" stroke-dasharray="2 2.4"/>
<rect x="1135.2" y="1306.4" width="435.5" height="290" fill="none" stroke="#111" stroke-width="1.8"/>
<line x1="1127.7" y1="1306.4" x2="1135.2" y2="1306.4" stroke="#000" stroke-width="1.5" />
<line x1="1131.2" y1="1350" x2="1135.2" y2="1350" stroke="#000" stroke-width="1.3" />
<line x1="1131.2" y1="1375.6" x2="1135.2" y2="1375.6" stroke="#000" stroke-width="1.3" />
<line x1="1131.2" y1="1393.7" x2="1135.2" y2="1393.7" stroke="#000" stroke-width="1.3" />
<line x1="1131.2" y1="1407.8" x2="1135.2" y2="1407.8" stroke="#000" stroke-width="1.3" />
<line x1="1131.2" y1="1419.2" x2="1135.2" y2="1419.2" stroke="#000" stroke-width="1.3" />
<line x1="1131.2" y1="1428.9" x2="1135.2" y2="1428.9" stroke="#000" stroke-width="1.3" />
<line x1="1131.2" y1="1437.3" x2="1135.2" y2="1437.3" stroke="#000" stroke-width="1.3" />
<line x1="1131.2" y1="1444.8" x2="1135.2" y2="1444.8" stroke="#000" stroke-width="1.3" />
<line x1="1127.7" y1="1451.4" x2="1135.2" y2="1451.4" stroke="#000" stroke-width="1.5" />
<line x1="1131.2" y1="1495" x2="1135.2" y2="1495" stroke="#000" stroke-width="1.3" />
<line x1="1131.2" y1="1520.6" x2="1135.2" y2="1520.6" stroke="#000" stroke-width="1.3" />
<line x1="1131.2" y1="1538.7" x2="1135.2" y2="1538.7" stroke="#000" stroke-width="1.3" />
<line x1="1131.2" y1="1552.8" x2="1135.2" y2="1552.8" stroke="#000" stroke-width="1.3" />
<line x1="1131.2" y1="1564.2" x2="1135.2" y2="1564.2" stroke="#000" stroke-width="1.3" />
<line x1="1131.2" y1="1573.9" x2="1135.2" y2="1573.9" stroke="#000" stroke-width="1.3" />
<line x1="1131.2" y1="1582.3" x2="1135.2" y2="1582.3" stroke="#000" stroke-width="1.3" />
<line x1="1131.2" y1="1589.8" x2="1135.2" y2="1589.8" stroke="#000" stroke-width="1.3" />
<line x1="1127.7" y1="1596.4" x2="1135.2" y2="1596.4" stroke="#000" stroke-width="1.5" />
<line x1="1148.8" y1="1596.4" x2="1148.8" y2="1604.4" stroke="#000" stroke-width="1.5" />
<text x="1155" y="1626.4" font-size="18.3" text-anchor="end" transform="rotate(-45 1155 1626.4)">0</text>
<line x1="1176" y1="1596.4" x2="1176" y2="1604.4" stroke="#000" stroke-width="1.5" />
<text x="1182.2" y="1626.4" font-size="18.3" text-anchor="end" transform="rotate(-45 1182.2 1626.4)">0.1</text>
<line x1="1203.2" y1="1596.4" x2="1203.2" y2="1604.4" stroke="#000" stroke-width="1.5" />
<text x="1209.4" y="1626.4" font-size="18.3" text-anchor="end" transform="rotate(-45 1209.4 1626.4)">1</text>
<line x1="1230.5" y1="1596.4" x2="1230.5" y2="1604.4" stroke="#000" stroke-width="1.5" />
<text x="1236.7" y="1626.4" font-size="18.3" text-anchor="end" transform="rotate(-45 1236.7 1626.4)">10</text>
<line x1="1257.7" y1="1596.4" x2="1257.7" y2="1604.4" stroke="#000" stroke-width="1.5" />
<text x="1263.9" y="1626.4" font-size="18.3" text-anchor="end" transform="rotate(-45 1263.9 1626.4)">100</text>
<line x1="1284.9" y1="1596.4" x2="1284.9" y2="1604.4" stroke="#000" stroke-width="1.5" />
<text x="1291.1" y="1626.4" font-size="18.3" text-anchor="end" transform="rotate(-45 1291.1 1626.4)">1,000</text>
<line x1="1312.1" y1="1596.4" x2="1312.1" y2="1604.4" stroke="#000" stroke-width="1.5" />
<text x="1318.3" y="1626.4" font-size="18.3" text-anchor="end" transform="rotate(-45 1318.3 1626.4)">[+]</text>
<line x1="1339.3" y1="1596.4" x2="1339.3" y2="1604.4" stroke="#000" stroke-width="1.5" />
<text x="1345.5" y="1626.4" font-size="18.3" text-anchor="end" transform="rotate(-45 1345.5 1626.4)">[-]</text>
<line x1="1393.8" y1="1596.4" x2="1393.8" y2="1604.4" stroke="#000" stroke-width="1.5" />
<text x="1400" y="1626.4" font-size="18.3" text-anchor="end" transform="rotate(-45 1400 1626.4)">1,000</text>
<line x1="1421" y1="1596.4" x2="1421" y2="1604.4" stroke="#000" stroke-width="1.5" />
<text x="1427.2" y="1626.4" font-size="18.3" text-anchor="end" transform="rotate(-45 1427.2 1626.4)">[+]</text>
<line x1="1448.2" y1="1596.4" x2="1448.2" y2="1604.4" stroke="#000" stroke-width="1.5" />
<text x="1454.4" y="1626.4" font-size="18.3" text-anchor="end" transform="rotate(-45 1454.4 1626.4)">[-]</text>
<line x1="1502.7" y1="1596.4" x2="1502.7" y2="1604.4" stroke="#000" stroke-width="1.5" />
<text x="1508.9" y="1626.4" font-size="18.3" text-anchor="end" transform="rotate(-45 1508.9 1626.4)">1,000</text>
<line x1="1529.9" y1="1596.4" x2="1529.9" y2="1604.4" stroke="#000" stroke-width="1.5" />
<text x="1536.1" y="1626.4" font-size="18.3" text-anchor="end" transform="rotate(-45 1536.1 1626.4)">[+]</text>
<line x1="1557.1" y1="1596.4" x2="1557.1" y2="1604.4" stroke="#000" stroke-width="1.5" />
<text x="1563.3" y="1626.4" font-size="18.3" text-anchor="end" transform="rotate(-45 1563.3 1626.4)">[-]</text>
<text x="1353.5" y="1688.2" font-size="30" text-anchor="middle" textLength="495" lengthAdjust="spacing">comPACT TCR Stimulation (ng/mL)</text>
<line x1="1149.3" y1="1322.3" x2="1211.5" y2="1322.3" stroke="#000" stroke-width="2.3" />
<circle cx="1180.4" cy="1322.3" r="6.1" fill="#000"/>
<text x="1247.2" y="1329.1" font-size="19" textLength="75.3" lengthAdjust="spacing">TCR829</text>
<line x1="1149.3" y1="1349.1" x2="1211.5" y2="1349.1" stroke="#000" stroke-width="2.3" />
<rect x="1174.3" y="1343" width="12.2" height="12.2" fill="#000"/>
<text x="1247.2" y="1355.9" font-size="19" textLength="75.3" lengthAdjust="spacing">TCR827</text>
<line x1="1149.3" y1="1375.4" x2="1211.5" y2="1375.4" stroke="#000" stroke-width="2.3" />
<path d="M1180.4 1369.3L1186.5 1381.5L1174.3 1381.5Z" fill="#000"/>
<text x="1247.2" y="1382.2" font-size="19" textLength="75.3" lengthAdjust="spacing">TCR814</text>
<path d="M1148.8 1545 L1176 1546.4 L1203.2 1543.5 L1230.5 1546.4 L1257.7 1535.6 L1284.9 1490.4" fill="none" stroke="#000" stroke-width="2.8" stroke-linejoin="round"/>
<circle cx="1148.8" cy="1545" r="6.2" fill="#000"/>
<circle cx="1176" cy="1546.4" r="6.2" fill="#000"/>
<circle cx="1203.2" cy="1543.5" r="6.2" fill="#000"/>
<circle cx="1230.5" cy="1546.4" r="6.2" fill="#000"/>
<circle cx="1257.7" cy="1535.6" r="6.2" fill="#000"/>
<circle cx="1284.9" cy="1490.4" r="6.2" fill="#000"/>
<circle cx="1312.1" cy="1422.9" r="6.2" fill="#000"/>
<circle cx="1339.3" cy="1545" r="6.2" fill="#000"/>
<circle cx="1393.8" cy="1539.3" r="6.2" fill="#000"/>
<circle cx="1421" cy="1409.9" r="6.2" fill="#000"/>
<circle cx="1448.2" cy="1540.7" r="6.2" fill="#000"/>
<circle cx="1502.7" cy="1539.3" r="6.2" fill="#000"/>
<circle cx="1529.9" cy="1535.1" r="6.2" fill="#000"/>
<circle cx="1557.1" cy="1542.1" r="6.2" fill="#000"/>
<path d="M1148.8 1553.4 L1176 1552.9 L1203.2 1552.9 L1230.5 1546.4 L1257.7 1463 L1284.9 1447.5" fill="none" stroke="#000" stroke-width="2.8" stroke-linejoin="round"/>
<rect x="1142.6" y="1547.2" width="12.4" height="12.4" fill="#000"/>
<rect x="1169.8" y="1546.7" width="12.4" height="12.4" fill="#000"/>
<rect x="1197" y="1546.7" width="12.4" height="12.4" fill="#000"/>
<rect x="1224.3" y="1540.2" width="12.4" height="12.4" fill="#000"/>
<rect x="1251.5" y="1456.8" width="12.4" height="12.4" fill="#000"/>
<rect x="1278.7" y="1441.3" width="12.4" height="12.4" fill="#000"/>
<rect x="1305.9" y="1422.3" width="12.4" height="12.4" fill="#000"/>
<rect x="1333.1" y="1545.8" width="12.4" height="12.4" fill="#000"/>
<rect x="1387.6" y="1541.6" width="12.4" height="12.4" fill="#000"/>
<rect x="1414.8" y="1408.8" width="12.4" height="12.4" fill="#000"/>
<rect x="1442" y="1540.2" width="12.4" height="12.4" fill="#000"/>
<rect x="1496.5" y="1543" width="12.4" height="12.4" fill="#000"/>
<rect x="1523.7" y="1505.7" width="12.4" height="12.4" fill="#000"/>
<rect x="1550.9" y="1541.6" width="12.4" height="12.4" fill="#000"/>
<path d="M1148.8 1531.7 L1176 1531.7 L1203.2 1531.7 L1230.5 1513.9 L1257.7 1446 L1284.9 1436.2" fill="none" stroke="#000" stroke-width="2.8" stroke-linejoin="round"/>
<path d="M1148.8 1525.5L1155 1537.9L1142.6 1537.9Z" fill="#000"/>
<path d="M1176 1525.5L1182.2 1537.9L1169.8 1537.9Z" fill="#000"/>
<path d="M1203.2 1525.5L1209.4 1537.9L1197 1537.9Z" fill="#000"/>
<path d="M1230.5 1507.7L1236.7 1520.1L1224.3 1520.1Z" fill="#000"/>
<path d="M1257.7 1439.8L1263.9 1452.2L1251.5 1452.2Z" fill="#000"/>
<path d="M1284.9 1430L1291.1 1442.4L1278.7 1442.4Z" fill="#000"/>
<path d="M1312.1 1392.7L1318.3 1405.1L1305.9 1405.1Z" fill="#000"/>
<path d="M1339.3 1526L1345.5 1538.4L1333.1 1538.4Z" fill="#000"/>
<path d="M1393.8 1513.9L1400 1526.3L1387.6 1526.3Z" fill="#000"/>
<path d="M1421 1380.5L1427.2 1392.9L1414.8 1392.9Z" fill="#000"/>
<path d="M1448.2 1512.8L1454.4 1525.2L1442 1525.2Z" fill="#000"/>
<path d="M1502.7 1516.2L1508.9 1528.6L1496.5 1528.6Z" fill="#000"/>
<path d="M1529.9 1497.2L1536.1 1509.6L1523.7 1509.6Z" fill="#000"/>
<path d="M1557.1 1513.9L1563.3 1526.3L1550.9 1526.3Z" fill="#000"/>
<text x="1872.8" y="1265.6" font-size="28.6" text-anchor="middle" textLength="180.5" lengthAdjust="spacing">Patient 0604</text>
<text x="1719" y="1304.2" font-size="24.3" textLength="119" lengthAdjust="spacingAndGlyphs">Gene Edited</text>
<text x="1928.5" y="1304.2" font-size="24.3" textLength="37.5" lengthAdjust="spacingAndGlyphs">WT</text>
<text x="2031" y="1304.2" font-size="24.3" textLength="32" lengthAdjust="spacingAndGlyphs">KO</text>
<line x1="1887.4" y1="1308.4" x2="1887.4" y2="1596.4" stroke="#333" stroke-width="1.4" stroke-dasharray="2 2.4"/>
<line x1="1996.2" y1="1308.4" x2="1996.2" y2="1596.4" stroke="#333" stroke-width="1.4" stroke-dasharray="2 2.4"/>
<rect x="1656" y="1306.4" width="435.5" height="290" fill="none" stroke="#111" stroke-width="1.8"/>
<line x1="1648.5" y1="1306.4" x2="1656" y2="1306.4" stroke="#000" stroke-width="1.5" />
<line x1="1652" y1="1350" x2="1656" y2="1350" stroke="#000" stroke-width="1.3" />
<line x1="1652" y1="1375.6" x2="1656" y2="1375.6" stroke="#000" stroke-width="1.3" />
<line x1="1652" y1="1393.7" x2="1656" y2="1393.7" stroke="#000" stroke-width="1.3" />
<line x1="1652" y1="1407.8" x2="1656" y2="1407.8" stroke="#000" stroke-width="1.3" />
<line x1="1652" y1="1419.2" x2="1656" y2="1419.2" stroke="#000" stroke-width="1.3" />
<line x1="1652" y1="1428.9" x2="1656" y2="1428.9" stroke="#000" stroke-width="1.3" />
<line x1="1652" y1="1437.3" x2="1656" y2="1437.3" stroke="#000" stroke-width="1.3" />
<line x1="1652" y1="1444.8" x2="1656" y2="1444.8" stroke="#000" stroke-width="1.3" />
<line x1="1648.5" y1="1451.4" x2="1656" y2="1451.4" stroke="#000" stroke-width="1.5" />
<line x1="1652" y1="1495" x2="1656" y2="1495" stroke="#000" stroke-width="1.3" />
<line x1="1652" y1="1520.6" x2="1656" y2="1520.6" stroke="#000" stroke-width="1.3" />
<line x1="1652" y1="1538.7" x2="1656" y2="1538.7" stroke="#000" stroke-width="1.3" />
<line x1="1652" y1="1552.8" x2="1656" y2="1552.8" stroke="#000" stroke-width="1.3" />
<line x1="1652" y1="1564.2" x2="1656" y2="1564.2" stroke="#000" stroke-width="1.3" />
<line x1="1652" y1="1573.9" x2="1656" y2="1573.9" stroke="#000" stroke-width="1.3" />
<line x1="1652" y1="1582.3" x2="1656" y2="1582.3" stroke="#000" stroke-width="1.3" />
<line x1="1652" y1="1589.8" x2="1656" y2="1589.8" stroke="#000" stroke-width="1.3" />
<line x1="1648.5" y1="1596.4" x2="1656" y2="1596.4" stroke="#000" stroke-width="1.5" />
<line x1="1669.6" y1="1596.4" x2="1669.6" y2="1604.4" stroke="#000" stroke-width="1.5" />
<text x="1675.8" y="1626.4" font-size="18.3" text-anchor="end" transform="rotate(-45 1675.8 1626.4)">0</text>
<line x1="1696.8" y1="1596.4" x2="1696.8" y2="1604.4" stroke="#000" stroke-width="1.5" />
<text x="1703" y="1626.4" font-size="18.3" text-anchor="end" transform="rotate(-45 1703 1626.4)">0.1</text>
<line x1="1724" y1="1596.4" x2="1724" y2="1604.4" stroke="#000" stroke-width="1.5" />
<text x="1730.2" y="1626.4" font-size="18.3" text-anchor="end" transform="rotate(-45 1730.2 1626.4)">1</text>
<line x1="1751.3" y1="1596.4" x2="1751.3" y2="1604.4" stroke="#000" stroke-width="1.5" />
<text x="1757.5" y="1626.4" font-size="18.3" text-anchor="end" transform="rotate(-45 1757.5 1626.4)">10</text>
<line x1="1778.5" y1="1596.4" x2="1778.5" y2="1604.4" stroke="#000" stroke-width="1.5" />
<text x="1784.7" y="1626.4" font-size="18.3" text-anchor="end" transform="rotate(-45 1784.7 1626.4)">100</text>
<line x1="1805.7" y1="1596.4" x2="1805.7" y2="1604.4" stroke="#000" stroke-width="1.5" />
<text x="1811.9" y="1626.4" font-size="18.3" text-anchor="end" transform="rotate(-45 1811.9 1626.4)">1,000</text>
<line x1="1832.9" y1="1596.4" x2="1832.9" y2="1604.4" stroke="#000" stroke-width="1.5" />
<text x="1839.1" y="1626.4" font-size="18.3" text-anchor="end" transform="rotate(-45 1839.1 1626.4)">[+]</text>
<line x1="1860.1" y1="1596.4" x2="1860.1" y2="1604.4" stroke="#000" stroke-width="1.5" />
<text x="1866.3" y="1626.4" font-size="18.3" text-anchor="end" transform="rotate(-45 1866.3 1626.4)">[-]</text>
<line x1="1914.6" y1="1596.4" x2="1914.6" y2="1604.4" stroke="#000" stroke-width="1.5" />
<text x="1920.8" y="1626.4" font-size="18.3" text-anchor="end" transform="rotate(-45 1920.8 1626.4)">1,000</text>
<line x1="1941.8" y1="1596.4" x2="1941.8" y2="1604.4" stroke="#000" stroke-width="1.5" />
<text x="1948" y="1626.4" font-size="18.3" text-anchor="end" transform="rotate(-45 1948 1626.4)">[+]</text>
<line x1="1969" y1="1596.4" x2="1969" y2="1604.4" stroke="#000" stroke-width="1.5" />
<text x="1975.2" y="1626.4" font-size="18.3" text-anchor="end" transform="rotate(-45 1975.2 1626.4)">[-]</text>
<line x1="2023.5" y1="1596.4" x2="2023.5" y2="1604.4" stroke="#000" stroke-width="1.5" />
<text x="2029.7" y="1626.4" font-size="18.3" text-anchor="end" transform="rotate(-45 2029.7 1626.4)">1,000</text>
<line x1="2050.7" y1="1596.4" x2="2050.7" y2="1604.4" stroke="#000" stroke-width="1.5" />
<text x="2056.9" y="1626.4" font-size="18.3" text-anchor="end" transform="rotate(-45 2056.9 1626.4)">[+]</text>
<line x1="2077.9" y1="1596.4" x2="2077.9" y2="1604.4" stroke="#000" stroke-width="1.5" />
<text x="2084.1" y="1626.4" font-size="18.3" text-anchor="end" transform="rotate(-45 2084.1 1626.4)">[-]</text>
<text x="1874.2" y="1688.2" font-size="30" text-anchor="middle" textLength="495" lengthAdjust="spacing">comPACT TCR Stimulation (ng/mL)</text>
<line x1="1670.3" y1="1319.7" x2="1732.7" y2="1319.7" stroke="#000" stroke-width="2.3" />
<circle cx="1701.1" cy="1319.7" r="6.1" fill="#000"/>
<text x="1768.4" y="1326.5" font-size="19" textLength="93.3" lengthAdjust="spacing">TCR721-1</text>
<line x1="1670.3" y1="1345.9" x2="1732.7" y2="1345.9" stroke="#000" stroke-width="2.3" />
<rect x="1695" y="1339.8" width="12.2" height="12.2" fill="#000"/>
<text x="1768.4" y="1352.7" font-size="19" textLength="93.3" lengthAdjust="spacing">TCR721-2</text>
<line x1="1670.3" y1="1372.7" x2="1732.7" y2="1372.7" stroke="#000" stroke-width="2.3" />
<path d="M1701.1 1366.6L1707.2 1378.8L1695 1378.8Z" fill="#000"/>
<text x="1768.4" y="1379.5" font-size="19" textLength="75.3" lengthAdjust="spacing">TCR720</text>
<path d="M1669.6 1521.4 L1696.8 1520.1 L1724 1522 L1751.3 1513.4 L1778.5 1449.1 L1805.7 1408.9" fill="none" stroke="#000" stroke-width="2.8" stroke-linejoin="round"/>
<circle cx="1669.6" cy="1521.4" r="6.2" fill="#000"/>
<circle cx="1696.8" cy="1520.1" r="6.2" fill="#000"/>
<circle cx="1724" cy="1522" r="6.2" fill="#000"/>
<circle cx="1751.3" cy="1513.4" r="6.2" fill="#000"/>
<circle cx="1778.5" cy="1449.1" r="6.2" fill="#000"/>
<circle cx="1805.7" cy="1408.9" r="6.2" fill="#000"/>
<circle cx="1832.9" cy="1395.5" r="6.2" fill="#000"/>
<circle cx="1860.1" cy="1462.5" r="6.2" fill="#000"/>
<circle cx="1914.6" cy="1498.6" r="6.2" fill="#000"/>
<circle cx="1941.8" cy="1393.6" r="6.2" fill="#000"/>
<circle cx="1969" cy="1455.8" r="6.2" fill="#000"/>
<circle cx="2023.5" cy="1508.8" r="6.2" fill="#000"/>
<circle cx="2050.7" cy="1524.9" r="6.2" fill="#000"/>
<circle cx="2077.9" cy="1530.8" r="6.2" fill="#000"/>
<path d="M1669.6 1516.9 L1696.8 1520.1 L1724 1518.7 L1751.3 1513.4 L1778.5 1443.7 L1805.7 1408.9" fill="none" stroke="#000" stroke-width="2.8" stroke-linejoin="round"/>
<rect x="1663.4" y="1510.7" width="12.4" height="12.4" fill="#000"/>
<rect x="1690.6" y="1513.9" width="12.4" height="12.4" fill="#000"/>
<rect x="1717.8" y="1512.5" width="12.4" height="12.4" fill="#000"/>
<rect x="1745.1" y="1507.2" width="12.4" height="12.4" fill="#000"/>
<rect x="1772.3" y="1437.5" width="12.4" height="12.4" fill="#000"/>
<rect x="1799.5" y="1402.7" width="12.4" height="12.4" fill="#000"/>
<rect x="1826.7" y="1385.3" width="12.4" height="12.4" fill="#000"/>
<rect x="1853.9" y="1512.5" width="12.4" height="12.4" fill="#000"/>
<rect x="1908.4" y="1493.8" width="12.4" height="12.4" fill="#000"/>
<rect x="1935.6" y="1383.9" width="12.4" height="12.4" fill="#000"/>
<rect x="1962.8" y="1487.6" width="12.4" height="12.4" fill="#000"/>
<rect x="2017.3" y="1505.8" width="12.4" height="12.4" fill="#000"/>
<rect x="2044.5" y="1519.2" width="12.4" height="12.4" fill="#000"/>
<rect x="2071.7" y="1503.7" width="12.4" height="12.4" fill="#000"/>
<path d="M1669.6 1512 L1696.8 1509.4 L1724 1492.7 L1751.3 1457.1 L1778.5 1419.6 L1805.7 1407.5" fill="none" stroke="#000" stroke-width="2.8" stroke-linejoin="round"/>
<path d="M1669.6 1505.8L1675.8 1518.2L1663.4 1518.2Z" fill="#000"/>
<path d="M1696.8 1503.2L1703 1515.6L1690.6 1515.6Z" fill="#000"/>
<path d="M1724 1486.5L1730.2 1498.9L1717.8 1498.9Z" fill="#000"/>
<path d="M1751.3 1450.9L1757.5 1463.3L1745.1 1463.3Z" fill="#000"/>
<path d="M1778.5 1413.4L1784.7 1425.8L1772.3 1425.8Z" fill="#000"/>
<path d="M1805.7 1401.3L1811.9 1413.7L1799.5 1413.7Z" fill="#000"/>
<path d="M1832.9 1392L1839.1 1404.4L1826.7 1404.4Z" fill="#000"/>
<path d="M1860.1 1505.3L1866.3 1517.7L1853.9 1517.7Z" fill="#000"/>
<path d="M1914.6 1492.8L1920.8 1505.2L1908.4 1505.2Z" fill="#000"/>
<path d="M1941.8 1396L1948 1408.4L1935.6 1408.4Z" fill="#000"/>
<path d="M2023.5 1495.1L2029.7 1507.5L2017.3 1507.5Z" fill="#000"/>
<path d="M2050.7 1509.9L2056.9 1522.3L2044.5 1522.3Z" fill="#000"/>
<path d="M2077.9 1497.8L2084.1 1510.2L2071.7 1510.2Z" fill="#000"/>
<text x="304.1" y="1712.8" font-size="28.6" text-anchor="middle" textLength="180.5" lengthAdjust="spacing">Patient 0612</text>
<text x="150.4" y="1751.4" font-size="24.3" textLength="119" lengthAdjust="spacingAndGlyphs">Gene Edited</text>
<text x="359.9" y="1751.4" font-size="24.3" textLength="37.5" lengthAdjust="spacingAndGlyphs">WT</text>
<text x="462.4" y="1751.4" font-size="24.3" textLength="32" lengthAdjust="spacingAndGlyphs">KO</text>
<line x1="318.8" y1="1755.6" x2="318.8" y2="2043.6" stroke="#333" stroke-width="1.4" stroke-dasharray="2 2.4"/>
<line x1="427.6" y1="1755.6" x2="427.6" y2="2043.6" stroke="#333" stroke-width="1.4" stroke-dasharray="2 2.4"/>
<rect x="87.4" y="1753.6" width="435.5" height="290" fill="none" stroke="#111" stroke-width="1.8"/>
<line x1="79.9" y1="1753.6" x2="87.4" y2="1753.6" stroke="#000" stroke-width="1.5" />
<line x1="83.4" y1="1797.2" x2="87.4" y2="1797.2" stroke="#000" stroke-width="1.3" />
<line x1="83.4" y1="1822.8" x2="87.4" y2="1822.8" stroke="#000" stroke-width="1.3" />
<line x1="83.4" y1="1840.9" x2="87.4" y2="1840.9" stroke="#000" stroke-width="1.3" />
<line x1="83.4" y1="1855" x2="87.4" y2="1855" stroke="#000" stroke-width="1.3" />
<line x1="83.4" y1="1866.4" x2="87.4" y2="1866.4" stroke="#000" stroke-width="1.3" />
<line x1="83.4" y1="1876.1" x2="87.4" y2="1876.1" stroke="#000" stroke-width="1.3" />
<line x1="83.4" y1="1884.5" x2="87.4" y2="1884.5" stroke="#000" stroke-width="1.3" />
<line x1="83.4" y1="1892" x2="87.4" y2="1892" stroke="#000" stroke-width="1.3" />
<line x1="79.9" y1="1898.6" x2="87.4" y2="1898.6" stroke="#000" stroke-width="1.5" />
<line x1="83.4" y1="1942.2" x2="87.4" y2="1942.2" stroke="#000" stroke-width="1.3" />
<line x1="83.4" y1="1967.8" x2="87.4" y2="1967.8" stroke="#000" stroke-width="1.3" />
<line x1="83.4" y1="1985.9" x2="87.4" y2="1985.9" stroke="#000" stroke-width="1.3" />
<line x1="83.4" y1="2000" x2="87.4" y2="2000" stroke="#000" stroke-width="1.3" />
<line x1="83.4" y1="2011.4" x2="87.4" y2="2011.4" stroke="#000" stroke-width="1.3" />
<line x1="83.4" y1="2021.1" x2="87.4" y2="2021.1" stroke="#000" stroke-width="1.3" />
<line x1="83.4" y1="2029.5" x2="87.4" y2="2029.5" stroke="#000" stroke-width="1.3" />
<line x1="83.4" y1="2037" x2="87.4" y2="2037" stroke="#000" stroke-width="1.3" />
<line x1="79.9" y1="2043.6" x2="87.4" y2="2043.6" stroke="#000" stroke-width="1.5" />
<line x1="101" y1="2043.6" x2="101" y2="2051.6" stroke="#000" stroke-width="1.5" />
<text x="107.2" y="2073.6" font-size="18.3" text-anchor="end" transform="rotate(-45 107.2 2073.6)">0</text>
<line x1="128.2" y1="2043.6" x2="128.2" y2="2051.6" stroke="#000" stroke-width="1.5" />
<text x="134.4" y="2073.6" font-size="18.3" text-anchor="end" transform="rotate(-45 134.4 2073.6)">0.1</text>
<line x1="155.4" y1="2043.6" x2="155.4" y2="2051.6" stroke="#000" stroke-width="1.5" />
<text x="161.6" y="2073.6" font-size="18.3" text-anchor="end" transform="rotate(-45 161.6 2073.6)">1</text>
<line x1="182.7" y1="2043.6" x2="182.7" y2="2051.6" stroke="#000" stroke-width="1.5" />
<text x="188.9" y="2073.6" font-size="18.3" text-anchor="end" transform="rotate(-45 188.9 2073.6)">10</text>
<line x1="209.9" y1="2043.6" x2="209.9" y2="2051.6" stroke="#000" stroke-width="1.5" />
<text x="216.1" y="2073.6" font-size="18.3" text-anchor="end" transform="rotate(-45 216.1 2073.6)">100</text>
<line x1="237.1" y1="2043.6" x2="237.1" y2="2051.6" stroke="#000" stroke-width="1.5" />
<text x="243.3" y="2073.6" font-size="18.3" text-anchor="end" transform="rotate(-45 243.3 2073.6)">1,000</text>
<line x1="264.3" y1="2043.6" x2="264.3" y2="2051.6" stroke="#000" stroke-width="1.5" />
<text x="270.5" y="2073.6" font-size="18.3" text-anchor="end" transform="rotate(-45 270.5 2073.6)">[+]</text>
<line x1="291.5" y1="2043.6" x2="291.5" y2="2051.6" stroke="#000" stroke-width="1.5" />
<text x="297.7" y="2073.6" font-size="18.3" text-anchor="end" transform="rotate(-45 297.7 2073.6)">[-]</text>
<line x1="346" y1="2043.6" x2="346" y2="2051.6" stroke="#000" stroke-width="1.5" />
<text x="352.2" y="2073.6" font-size="18.3" text-anchor="end" transform="rotate(-45 352.2 2073.6)">1,000</text>
<line x1="373.2" y1="2043.6" x2="373.2" y2="2051.6" stroke="#000" stroke-width="1.5" />
<text x="379.4" y="2073.6" font-size="18.3" text-anchor="end" transform="rotate(-45 379.4 2073.6)">[+]</text>
<line x1="400.4" y1="2043.6" x2="400.4" y2="2051.6" stroke="#000" stroke-width="1.5" />
<text x="406.6" y="2073.6" font-size="18.3" text-anchor="end" transform="rotate(-45 406.6 2073.6)">[-]</text>
<line x1="454.9" y1="2043.6" x2="454.9" y2="2051.6" stroke="#000" stroke-width="1.5" />
<text x="461.1" y="2073.6" font-size="18.3" text-anchor="end" transform="rotate(-45 461.1 2073.6)">1,000</text>
<line x1="482.1" y1="2043.6" x2="482.1" y2="2051.6" stroke="#000" stroke-width="1.5" />
<text x="488.3" y="2073.6" font-size="18.3" text-anchor="end" transform="rotate(-45 488.3 2073.6)">[+]</text>
<line x1="509.3" y1="2043.6" x2="509.3" y2="2051.6" stroke="#000" stroke-width="1.5" />
<text x="515.5" y="2073.6" font-size="18.3" text-anchor="end" transform="rotate(-45 515.5 2073.6)">[-]</text>
<text x="43.2" y="1760.7" font-size="19.8">10</text>
<text x="66.2" y="1754.9" font-size="13.6">3</text>
<text x="43.2" y="1905.7" font-size="19.8">10</text>
<text x="66.2" y="1899.9" font-size="13.6">4</text>
<text x="43.2" y="2050.7" font-size="19.8">10</text>
<text x="66.2" y="2044.9" font-size="13.6">5</text>
<text x="26.6" y="2006.1" font-size="28.6" textLength="179" lengthAdjust="spacing" transform="rotate(-90 26.6 2006.1)">ViaFluor MFI</text>
<line x1="100.5" y1="1772.2" x2="162" y2="1772.2" stroke="#000" stroke-width="2.3" />
<circle cx="131" cy="1772.2" r="6.1" fill="#000"/>
<text x="198.3" y="1779" font-size="19" textLength="75.3" lengthAdjust="spacing">TCR915</text>
<line x1="100.5" y1="1798.6" x2="162" y2="1798.6" stroke="#000" stroke-width="2.3" />
<rect x="124.9" y="1792.5" width="12.2" height="12.2" fill="#000"/>
<text x="198.3" y="1805.4" font-size="19" textLength="75.3" lengthAdjust="spacing">TCR913</text>
<line x1="100.5" y1="1825.6" x2="162" y2="1825.6" stroke="#000" stroke-width="2.3" />
<path d="M131 1819.5L137.1 1831.7L124.9 1831.7Z" fill="#000"/>
<text x="198.3" y="1832.4" font-size="19" textLength="75.3" lengthAdjust="spacing">TCR903</text>
<path d="M101 1985.3 L128.2 1985.3 L155.4 1984.4 L182.7 1984.4 L209.9 1920.8 L237.1 1856.9" fill="none" stroke="#000" stroke-width="2.8" stroke-linejoin="round"/>
<circle cx="101" cy="1985.3" r="6.2" fill="#000"/>
<circle cx="128.2" cy="1985.3" r="6.2" fill="#000"/>
<circle cx="155.4" cy="1984.4" r="6.2" fill="#000"/>
<circle cx="182.7" cy="1984.4" r="6.2" fill="#000"/>
<circle cx="209.9" cy="1920.8" r="6.2" fill="#000"/>
<circle cx="237.1" cy="1856.9" r="6.2" fill="#000"/>
<circle cx="264.3" cy="1855.8" r="6.2" fill="#000"/>
<circle cx="291.5" cy="1985.9" r="6.2" fill="#000"/>
<circle cx="346" cy="1862.2" r="6.2" fill="#000"/>
<circle cx="373.2" cy="1849.9" r="6.2" fill="#000"/>
<circle cx="400.4" cy="1875.4" r="6.2" fill="#000"/>
<circle cx="454.9" cy="1931.9" r="6.2" fill="#000"/>
<circle cx="482.1" cy="1948.6" r="6.2" fill="#000"/>
<circle cx="509.3" cy="1925.2" r="6.2" fill="#000"/>
<path d="M101 1973 L128.2 1958.3 L155.4 1909.1 L182.7 1870.4 L209.9 1857.8 L237.1 1845.2" fill="none" stroke="#000" stroke-width="2.8" stroke-linejoin="round"/>
<rect x="94.8" y="1966.8" width="12.4" height="12.4" fill="#000"/>
<rect x="122" y="1952.1" width="12.4" height="12.4" fill="#000"/>
<rect x="149.2" y="1902.9" width="12.4" height="12.4" fill="#000"/>
<rect x="176.5" y="1864.2" width="12.4" height="12.4" fill="#000"/>
<rect x="203.7" y="1851.6" width="12.4" height="12.4" fill="#000"/>
<rect x="230.9" y="1839" width="12.4" height="12.4" fill="#000"/>
<rect x="258.1" y="1835.5" width="12.4" height="12.4" fill="#000"/>
<rect x="285.3" y="1965.9" width="12.4" height="12.4" fill="#000"/>
<rect x="339.8" y="1924.9" width="12.4" height="12.4" fill="#000"/>
<rect x="367" y="1847.2" width="12.4" height="12.4" fill="#000"/>
<rect x="394.2" y="1932.2" width="12.4" height="12.4" fill="#000"/>
<rect x="448.7" y="1920.5" width="12.4" height="12.4" fill="#000"/>
<rect x="475.9" y="1946.8" width="12.4" height="12.4" fill="#000"/>
<rect x="503.1" y="1929.3" width="12.4" height="12.4" fill="#000"/>
<path d="M101 1978.8 L128.2 1978.8 L155.4 1964.8 L182.7 1890 L209.9 1861.6 L237.1 1849" fill="none" stroke="#000" stroke-width="2.8" stroke-linejoin="round"/>
<path d="M101 1972.6L107.2 1985L94.8 1985Z" fill="#000"/>
<path d="M128.2 1972.6L134.4 1985L122 1985Z" fill="#000"/>
<path d="M155.4 1958.6L161.6 1971L149.2 1971Z" fill="#000"/>
<path d="M182.7 1883.8L188.9 1896.2L176.5 1896.2Z" fill="#000"/>
<path d="M209.9 1855.4L216.1 1867.8L203.7 1867.8Z" fill="#000"/>
<path d="M237.1 1842.8L243.3 1855.2L230.9 1855.2Z" fill="#000"/>
<path d="M264.3 1838.8L270.5 1851.2L258.1 1851.2Z" fill="#000"/>
<path d="M291.5 1970.3L297.7 1982.7L285.3 1982.7Z" fill="#000"/>
<path d="M346 1908.8L352.2 1921.2L339.8 1921.2Z" fill="#000"/>
<path d="M373.2 1844.8L379.4 1857.2L367 1857.2Z" fill="#000"/>
<path d="M400.4 1900L406.6 1912.4L394.2 1912.4Z" fill="#000"/>
<path d="M454.9 1942.4L461.1 1954.8L448.7 1954.8Z" fill="#000"/>
<path d="M482.1 1958.6L488.3 1971L475.9 1971Z" fill="#000"/>
<path d="M509.3 1937.5L515.5 1949.9L503.1 1949.9Z" fill="#000"/>
<text x="829" y="1712.8" font-size="28.6" text-anchor="middle" textLength="180.5" lengthAdjust="spacing">Patient 0613</text>
<text x="675.3" y="1751.4" font-size="24.3" textLength="119" lengthAdjust="spacingAndGlyphs">Gene Edited</text>
<text x="884.8" y="1751.4" font-size="24.3" textLength="37.5" lengthAdjust="spacingAndGlyphs">WT</text>
<text x="987.3" y="1751.4" font-size="24.3" textLength="32" lengthAdjust="spacingAndGlyphs">KO</text>
<line x1="843.7" y1="1755.6" x2="843.7" y2="2043.6" stroke="#333" stroke-width="1.4" stroke-dasharray="2 2.4"/>
<line x1="952.5" y1="1755.6" x2="952.5" y2="2043.6" stroke="#333" stroke-width="1.4" stroke-dasharray="2 2.4"/>
<rect x="612.3" y="1753.6" width="435.5" height="290" fill="none" stroke="#111" stroke-width="1.8"/>
<line x1="604.8" y1="1753.6" x2="612.3" y2="1753.6" stroke="#000" stroke-width="1.5" />
<line x1="608.3" y1="1797.2" x2="612.3" y2="1797.2" stroke="#000" stroke-width="1.3" />
<line x1="608.3" y1="1822.8" x2="612.3" y2="1822.8" stroke="#000" stroke-width="1.3" />
<line x1="608.3" y1="1840.9" x2="612.3" y2="1840.9" stroke="#000" stroke-width="1.3" />
<line x1="608.3" y1="1855" x2="612.3" y2="1855" stroke="#000" stroke-width="1.3" />
<line x1="608.3" y1="1866.4" x2="612.3" y2="1866.4" stroke="#000" stroke-width="1.3" />
<line x1="608.3" y1="1876.1" x2="612.3" y2="1876.1" stroke="#000" stroke-width="1.3" />
<line x1="608.3" y1="1884.5" x2="612.3" y2="1884.5" stroke="#000" stroke-width="1.3" />
<line x1="608.3" y1="1892" x2="612.3" y2="1892" stroke="#000" stroke-width="1.3" />
<line x1="604.8" y1="1898.6" x2="612.3" y2="1898.6" stroke="#000" stroke-width="1.5" />
<line x1="608.3" y1="1942.2" x2="612.3" y2="1942.2" stroke="#000" stroke-width="1.3" />
<line x1="608.3" y1="1967.8" x2="612.3" y2="1967.8" stroke="#000" stroke-width="1.3" />
<line x1="608.3" y1="1985.9" x2="612.3" y2="1985.9" stroke="#000" stroke-width="1.3" />
<line x1="608.3" y1="2000" x2="612.3" y2="2000" stroke="#000" stroke-width="1.3" />
<line x1="608.3" y1="2011.4" x2="612.3" y2="2011.4" stroke="#000" stroke-width="1.3" />
<line x1="608.3" y1="2021.1" x2="612.3" y2="2021.1" stroke="#000" stroke-width="1.3" />
<line x1="608.3" y1="2029.5" x2="612.3" y2="2029.5" stroke="#000" stroke-width="1.3" />
<line x1="608.3" y1="2037" x2="612.3" y2="2037" stroke="#000" stroke-width="1.3" />
<line x1="604.8" y1="2043.6" x2="612.3" y2="2043.6" stroke="#000" stroke-width="1.5" />
<line x1="625.9" y1="2043.6" x2="625.9" y2="2051.6" stroke="#000" stroke-width="1.5" />
<text x="632.1" y="2073.6" font-size="18.3" text-anchor="end" transform="rotate(-45 632.1 2073.6)">0</text>
<line x1="653.1" y1="2043.6" x2="653.1" y2="2051.6" stroke="#000" stroke-width="1.5" />
<text x="659.3" y="2073.6" font-size="18.3" text-anchor="end" transform="rotate(-45 659.3 2073.6)">0.1</text>
<line x1="680.3" y1="2043.6" x2="680.3" y2="2051.6" stroke="#000" stroke-width="1.5" />
<text x="686.5" y="2073.6" font-size="18.3" text-anchor="end" transform="rotate(-45 686.5 2073.6)">1</text>
<line x1="707.6" y1="2043.6" x2="707.6" y2="2051.6" stroke="#000" stroke-width="1.5" />
<text x="713.8" y="2073.6" font-size="18.3" text-anchor="end" transform="rotate(-45 713.8 2073.6)">10</text>
<line x1="734.8" y1="2043.6" x2="734.8" y2="2051.6" stroke="#000" stroke-width="1.5" />
<text x="741" y="2073.6" font-size="18.3" text-anchor="end" transform="rotate(-45 741 2073.6)">100</text>
<line x1="762" y1="2043.6" x2="762" y2="2051.6" stroke="#000" stroke-width="1.5" />
<text x="768.2" y="2073.6" font-size="18.3" text-anchor="end" transform="rotate(-45 768.2 2073.6)">1,000</text>
<line x1="789.2" y1="2043.6" x2="789.2" y2="2051.6" stroke="#000" stroke-width="1.5" />
<text x="795.4" y="2073.6" font-size="18.3" text-anchor="end" transform="rotate(-45 795.4 2073.6)">[+]</text>
<line x1="816.4" y1="2043.6" x2="816.4" y2="2051.6" stroke="#000" stroke-width="1.5" />
<text x="822.6" y="2073.6" font-size="18.3" text-anchor="end" transform="rotate(-45 822.6 2073.6)">[-]</text>
<line x1="870.9" y1="2043.6" x2="870.9" y2="2051.6" stroke="#000" stroke-width="1.5" />
<text x="877.1" y="2073.6" font-size="18.3" text-anchor="end" transform="rotate(-45 877.1 2073.6)">1,000</text>
<line x1="898.1" y1="2043.6" x2="898.1" y2="2051.6" stroke="#000" stroke-width="1.5" />
<text x="904.3" y="2073.6" font-size="18.3" text-anchor="end" transform="rotate(-45 904.3 2073.6)">[+]</text>
<line x1="925.3" y1="2043.6" x2="925.3" y2="2051.6" stroke="#000" stroke-width="1.5" />
<text x="931.5" y="2073.6" font-size="18.3" text-anchor="end" transform="rotate(-45 931.5 2073.6)">[-]</text>
<line x1="979.8" y1="2043.6" x2="979.8" y2="2051.6" stroke="#000" stroke-width="1.5" />
<text x="986" y="2073.6" font-size="18.3" text-anchor="end" transform="rotate(-45 986 2073.6)">1,000</text>
<line x1="1007" y1="2043.6" x2="1007" y2="2051.6" stroke="#000" stroke-width="1.5" />
<text x="1013.2" y="2073.6" font-size="18.3" text-anchor="end" transform="rotate(-45 1013.2 2073.6)">[+]</text>
<line x1="1034.2" y1="2043.6" x2="1034.2" y2="2051.6" stroke="#000" stroke-width="1.5" />
<text x="1040.4" y="2073.6" font-size="18.3" text-anchor="end" transform="rotate(-45 1040.4 2073.6)">[-]</text>
<line x1="621.6" y1="1768.8" x2="683.8" y2="1768.8" stroke="#000" stroke-width="2.3" />
<circle cx="652.7" cy="1768.8" r="6.1" fill="#000"/>
<text x="720.1" y="1775.6" font-size="19" textLength="86.6" lengthAdjust="spacing">TCR1033</text>
<line x1="621.6" y1="1795.6" x2="683.8" y2="1795.6" stroke="#000" stroke-width="2.3" />
<rect x="646.6" y="1789.5" width="12.2" height="12.2" fill="#000"/>
<text x="720.1" y="1802.4" font-size="19" textLength="86.6" lengthAdjust="spacing">TCR1036</text>
<line x1="621.6" y1="2028.7" x2="683.8" y2="2028.7" stroke="#000" stroke-width="2.3" />
<path d="M652.7 2022.6L658.8 2034.8L646.6 2034.8Z" fill="#000"/>
<text x="720.1" y="2035.5" font-size="19" textLength="86.6" lengthAdjust="spacing">TCR1037</text>
<path d="M625.9 1999.1 L653.1 1999.1 L680.3 2000.5 L707.6 2000.5 L734.8 1987.8 L762 1948.2" fill="none" stroke="#000" stroke-width="2.8" stroke-linejoin="round"/>
<circle cx="625.9" cy="1999.1" r="6.2" fill="#000"/>
<circle cx="653.1" cy="1999.1" r="6.2" fill="#000"/>
<circle cx="680.3" cy="2000.5" r="6.2" fill="#000"/>
<circle cx="707.6" cy="2000.5" r="6.2" fill="#000"/>
<circle cx="734.8" cy="1987.8" r="6.2" fill="#000"/>
<circle cx="762" cy="1948.2" r="6.2" fill="#000"/>
<circle cx="789.2" cy="1836.6" r="6.2" fill="#000"/>
<circle cx="816.4" cy="1999.1" r="6.2" fill="#000"/>
<circle cx="870.9" cy="1997.7" r="6.2" fill="#000"/>
<circle cx="898.1" cy="1826.7" r="6.2" fill="#000"/>
<circle cx="925.3" cy="1999.1" r="6.2" fill="#000"/>
<circle cx="979.8" cy="1994.8" r="6.2" fill="#000"/>
<circle cx="1007" cy="1985" r="6.2" fill="#000"/>
<circle cx="1034.2" cy="1994.8" r="6.2" fill="#000"/>
<path d="M625.9 2002.8 L653.1 2001.9 L680.3 2001.9 L707.6 2001.9 L734.8 2000.5 L762 1948.8" fill="none" stroke="#000" stroke-width="2.8" stroke-linejoin="round"/>
<rect x="619.7" y="1996.6" width="12.4" height="12.4" fill="#000"/>
<rect x="646.9" y="1995.7" width="12.4" height="12.4" fill="#000"/>
<rect x="674.1" y="1995.7" width="12.4" height="12.4" fill="#000"/>
<rect x="701.4" y="1995.7" width="12.4" height="12.4" fill="#000"/>
<rect x="728.6" y="1994.3" width="12.4" height="12.4" fill="#000"/>
<rect x="755.8" y="1942.6" width="12.4" height="12.4" fill="#000"/>
<rect x="783" y="1838.9" width="12.4" height="12.4" fill="#000"/>
<rect x="810.2" y="1996.3" width="12.4" height="12.4" fill="#000"/>
<rect x="864.7" y="1992.9" width="12.4" height="12.4" fill="#000"/>
<rect x="891.9" y="1814.9" width="12.4" height="12.4" fill="#000"/>
<rect x="919.1" y="1995.7" width="12.4" height="12.4" fill="#000"/>
<rect x="973.6" y="1990.1" width="12.4" height="12.4" fill="#000"/>
<rect x="1000.8" y="1979.3" width="12.4" height="12.4" fill="#000"/>
<rect x="1028" y="1991.5" width="12.4" height="12.4" fill="#000"/>
<path d="M625.9 1985 L653.1 1983.5 L680.3 1982.1 L707.6 1968.8 L734.8 1942.6" fill="none" stroke="#000" stroke-width="2.8" stroke-linejoin="round"/>
<path d="M625.9 1978.8L632.1 1991.2L619.7 1991.2Z" fill="#000"/>
<path d="M653.1 1977.3L659.3 1989.7L646.9 1989.7Z" fill="#000"/>
<path d="M680.3 1975.9L686.5 1988.3L674.1 1988.3Z" fill="#000"/>
<path d="M707.6 1962.6L713.8 1975L701.4 1975Z" fill="#000"/>
<path d="M734.8 1936.4L741 1948.8L728.6 1948.8Z" fill="#000"/>
<path d="M789.2 1812L795.4 1824.4L783 1824.4Z" fill="#000"/>
<path d="M816.4 1978.8L822.6 1991.2L810.2 1991.2Z" fill="#000"/>
<path d="M898.1 1807.8L904.3 1820.2L891.9 1820.2Z" fill="#000"/>
<path d="M925.3 1979.6L931.5 1992L919.1 1992Z" fill="#000"/>
<path d="M1007 1974.5L1013.2 1986.9L1000.8 1986.9Z" fill="#000"/>
<path d="M1034.2 1975.9L1040.4 1988.3L1028 1988.3Z" fill="#000"/>
<rect x="0" y="2103" width="1100" height="9" fill="#fff"/>
<text x="305.6" y="2135.4" font-size="30" text-anchor="middle" textLength="495" lengthAdjust="spacing">comPACT TCR Stimulation (ng/mL)</text>
<text x="830.5" y="2135.4" font-size="30" text-anchor="middle" textLength="495" lengthAdjust="spacing">comPACT TCR Stimulation (ng/mL)</text>
<text x="1235" y="1744.7" font-size="32.5" font-weight="bold">c</text>
<path d="M1341.7 1712.6L1330.9 1723L1341.7 1733.4M1330.7 1723L1352.7 1723" fill="none" stroke="#000" stroke-width="2.3" stroke-linecap="butt" stroke-linejoin="miter"/>
<text x="1364.3" y="1733.6" font-size="29.5" textLength="152" lengthAdjust="spacingAndGlyphs">Proliferation</text>
<text x="1232.6" y="1909.6" font-size="21.5" text-anchor="middle" textLength="169" lengthAdjust="spacingAndGlyphs" transform="rotate(-90 1232.6 1909.6)">comPACT antigen</text>
<text x="1257.2" y="1906.2" font-size="20.5" text-anchor="middle" textLength="70" lengthAdjust="spacingAndGlyphs" transform="rotate(-90 1257.2 1906.2)">(ng/mL)</text>
<line x1="1288.6" y1="1804.4" x2="1554.2" y2="1804.4" stroke="#c7a3a8" stroke-width="1.2" stroke-opacity="0.35"/>
<path d="M1418.8 1804.4L1418.8 1803.8L1420.1 1804.4L1421.3 1804.4L1422.6 1803.7L1423.8 1804L1425.1 1803.9L1426.3 1804.1L1427.6 1804.2L1428.8 1803.3L1430.1 1803.1L1431.3 1804.1L1432.6 1803.5L1433.8 1803.9L1435.1 1802.9L1436.3 1803.4L1437.6 1803.2L1438.8 1801.9L1440.1 1802.7L1441.3 1802.7L1442.6 1801.7L1443.8 1802.3L1445.1 1803.4L1446.3 1803.2L1447.6 1801.5L1448.8 1800.3L1450.1 1800.2L1451.3 1799L1452.6 1799.1L1453.8 1799.3L1455.1 1799.1L1456.3 1796.4L1457.6 1794.5L1458.8 1793.2L1460.1 1793.1L1461.3 1792.2L1462.6 1791.9L1463.8 1795L1465.1 1792.6L1466.3 1791.3L1467.6 1785.7L1468.8 1785.7L1470.1 1784.5L1471.3 1787.2L1472.6 1790.8L1473.8 1793.2L1475.1 1792L1476.3 1787.4L1477.6 1783.3L1478.8 1784L1480.1 1782.6L1481.3 1780.2L1482.6 1780.6L1483.8 1782.7L1485.1 1784.2L1486.3 1785.6L1487.6 1788.4L1488.8 1783.7L1490.1 1781.7L1491.3 1783.9L1492.6 1783.1L1493.8 1782.7L1495.1 1787L1496.3 1791.5L1497.6 1795.5L1498.8 1798.8L1500.1 1799.9L1501.3 1799.2L1502.6 1802.5L1503.8 1802.3L1505.1 1801.5L1506.3 1801.7L1507.6 1801.9L1508.8 1802.9L1510.1 1804.1L1511.3 1804.4L1511.6 1804.2L1511.6 1804.4Z" fill="#eed3d5" stroke="#c7a3a8" stroke-width="1.5" stroke-linejoin="round"/>
<text x="1294.2" y="1799.5" font-size="18.5">0</text>
<line x1="1288.6" y1="1846.2" x2="1554.2" y2="1846.2" stroke="#2d4d12" stroke-width="1.2" stroke-opacity="0.35"/>
<path d="M1404.3 1846.2L1404.3 1846.2L1405.6 1846.2L1406.8 1845.7L1408.1 1845.8L1409.3 1846.2L1410.6 1846.2L1411.8 1846.2L1413.1 1846L1414.3 1846.2L1415.6 1846.2L1416.8 1846.2L1418.1 1845.8L1419.3 1846.1L1420.6 1846.1L1421.8 1846.2L1423.1 1846.2L1424.3 1846.2L1425.6 1846.2L1426.8 1846.1L1428.1 1845.9L1429.3 1845.6L1430.6 1845.6L1431.8 1846.1L1433.1 1846L1434.3 1846L1435.6 1846.2L1436.8 1846L1438.1 1846.2L1439.3 1846L1440.6 1845.9L1441.8 1845.6L1443.1 1844.8L1444.3 1844.8L1445.6 1845.1L1446.8 1844.1L1448.1 1842.7L1449.3 1844.1L1450.6 1843.9L1451.8 1843.8L1453.1 1842.4L1454.3 1839.8L1455.6 1839.2L1456.8 1837L1458.1 1838.5L1459.3 1840.1L1460.6 1838L1461.8 1837.8L1463.1 1835.7L1464.3 1834.4L1465.6 1835.8L1466.8 1836.1L1468.1 1832.4L1469.3 1828L1470.6 1828.6L1471.8 1826.7L1473.1 1829.5L1474.3 1831L1475.6 1829.1L1476.8 1828.9L1478.1 1829.5L1479.3 1820.6L1480.6 1816L1481.8 1819.1L1483.1 1821.6L1484.3 1825L1485.6 1825.8L1486.8 1829.2L1488.1 1826.8L1489.3 1829.1L1490.6 1827.7L1491.8 1830.2L1493.1 1832.7L1494.3 1835.6L1495.6 1837.5L1496.8 1839.8L1498.1 1841.5L1499.3 1843L1500.6 1844.9L1501.8 1845.1L1503.1 1845.5L1504.3 1845.9L1505.6 1845.8L1506.8 1846.2L1508.1 1846.2L1509.3 1846.2L1510.6 1845.9L1511.8 1846.2L1512.3 1846.2L1512.3 1846.2Z" fill="#a9bf9a" stroke="#2d4d12" stroke-width="1.5" stroke-linejoin="round"/>
<text x="1294.2" y="1840.8" font-size="18.5">0.1</text>
<line x1="1288.6" y1="1888.6" x2="1554.2" y2="1888.6" stroke="#5fd83e" stroke-width="1.2" stroke-opacity="0.35"/>
<path d="M1439.1 1888.6L1439.1 1888.3L1440.4 1888.4L1441.6 1888L1442.9 1888.1L1444.1 1887.9L1445.4 1886.9L1446.6 1886.5L1447.9 1887L1449.1 1884.8L1450.4 1883.5L1451.6 1884.2L1452.9 1882.1L1454.1 1882.6L1455.4 1881.1L1456.6 1881L1457.9 1878.9L1459.1 1879.9L1460.4 1880.1L1461.6 1878.5L1462.9 1878.1L1464.1 1876.2L1465.4 1873.2L1466.6 1874.4L1467.9 1872.9L1469.1 1870.8L1470.4 1868.8L1471.6 1871.1L1472.9 1872.6L1474.1 1875.1L1475.4 1872.7L1476.6 1869.3L1477.9 1867.6L1479.1 1864.8L1480.4 1864.9L1481.6 1863.5L1482.9 1866.2L1484.1 1867.1L1485.4 1866.8L1486.6 1869.1L1487.9 1869.2L1489.1 1870.6L1490.4 1867.9L1491.6 1869.4L1492.9 1871.3L1494.1 1875.7L1495.4 1878.5L1496.6 1881.6L1497.9 1884L1499.1 1885.1L1500.4 1886.7L1501.6 1887.1L1502.9 1887.7L1504.1 1887.8L1505.4 1888.2L1506.6 1888L1507.9 1887.6L1509.1 1888.6L1510.4 1888.6L1510.9 1888.6L1510.9 1888.6Z" fill="#c2f5b0" stroke="#5fd83e" stroke-width="1.5" stroke-linejoin="round"/>
<text x="1294.2" y="1882" font-size="18.5">1</text>
<line x1="1288.6" y1="1930.7" x2="1554.2" y2="1930.7" stroke="#e8952f" stroke-width="1.2" stroke-opacity="0.35"/>
<path d="M1416.6 1930.7L1416.6 1930.4L1417.9 1930.1L1419.1 1930.4L1420.4 1930.1L1421.6 1929.9L1422.9 1930.2L1424.1 1930.7L1425.4 1929.9L1426.6 1929.2L1427.9 1927.6L1429.1 1927.5L1430.4 1926.9L1431.6 1927.6L1432.9 1928.4L1434.1 1929.5L1435.4 1929.5L1436.6 1928.3L1437.9 1927.2L1439.1 1925.7L1440.4 1921.6L1441.6 1920L1442.9 1923.3L1444.1 1925.8L1445.4 1925.9L1446.6 1924.9L1447.9 1921.2L1449.1 1921.6L1450.4 1920.8L1451.6 1919.6L1452.9 1917.8L1454.1 1916.9L1455.4 1913.4L1456.6 1913.9L1457.9 1913.9L1459.1 1913.9L1460.4 1914.1L1461.6 1914.3L1462.9 1911L1464.1 1909.7L1465.4 1907.3L1466.6 1904.5L1467.9 1905.6L1469.1 1907.6L1470.4 1908.5L1471.6 1909.1L1472.9 1911L1474.1 1913.1L1475.4 1908.4L1476.6 1906.3L1477.9 1905.9L1479.1 1905.1L1480.4 1907L1481.6 1909L1482.9 1910.9L1484.1 1915.1L1485.4 1913.5L1486.6 1915.1L1487.9 1914.5L1489.1 1915.6L1490.4 1914.2L1491.6 1916.5L1492.9 1920.2L1494.1 1921.3L1495.4 1924.2L1496.6 1927.1L1497.9 1927.5L1499.1 1929L1500.4 1929.5L1501.6 1930.5L1502.9 1930.5L1504.1 1930.3L1505.4 1930.5L1506.6 1930.5L1507.9 1930.7L1508.9 1931L1508.9 1930.7Z" fill="#fbcf9f" stroke="#e8952f" stroke-width="1.5" stroke-linejoin="round"/>
<text x="1294.2" y="1923.2" font-size="18.5">10</text>
<line x1="1288.6" y1="1972.8" x2="1554.2" y2="1972.8" stroke="#1ab2e2" stroke-width="1.2" stroke-opacity="0.35"/>
<path d="M1393.9 1972.8L1393.9 1972.8L1395.2 1972.8L1396.4 1972.8L1397.7 1972.8L1398.9 1972.8L1400.2 1972.8L1401.4 1971.9L1402.7 1972.4L1403.9 1972.8L1405.2 1972.5L1406.4 1972.7L1407.7 1971.7L1408.9 1972.1L1410.2 1971.7L1411.4 1971.4L1412.7 1970.1L1413.9 1967.4L1415.2 1966.4L1416.4 1965L1417.7 1965.9L1418.9 1964.4L1420.2 1961.4L1421.4 1962L1422.7 1957.4L1423.9 1956.4L1425.2 1951.1L1426.4 1946.9L1427.7 1944.4L1428.9 1940L1430.2 1942.5L1431.4 1946.7L1432.7 1941.3L1433.9 1942.3L1435.2 1946.6L1436.4 1942.4L1437.7 1939.4L1438.9 1933.7L1440.2 1937.3L1441.4 1940.6L1442.7 1944.5L1443.9 1945.1L1445.2 1943.6L1446.4 1944.3L1447.7 1944.9L1448.9 1946.1L1450.2 1947.1L1451.4 1947.4L1452.7 1950.5L1453.9 1952L1455.2 1957.4L1456.4 1959L1457.7 1958.6L1458.9 1959.9L1460.2 1960.1L1461.4 1961.1L1462.7 1963L1463.9 1964.8L1465.2 1963.9L1466.4 1967.7L1467.7 1966.2L1468.9 1964.9L1470.2 1964.2L1471.4 1962.3L1472.7 1965.6L1473.9 1964.9L1475.2 1963.8L1476.4 1961.3L1477.7 1962.3L1478.9 1963.6L1480.2 1966.9L1481.4 1965.6L1482.7 1967.9L1483.9 1969.1L1485.2 1969.8L1486.4 1968.5L1487.7 1968.2L1488.9 1968.2L1490.2 1968.5L1491.4 1967L1492.7 1968.9L1493.9 1969.4L1495.2 1970L1496.4 1969.5L1497.7 1972L1498.9 1971.9L1500.2 1972.6L1501.4 1972.8L1502.7 1972.8L1503.9 1972.6L1505.2 1972.8L1506.4 1972.8L1507.7 1972.6L1508.9 1972.6L1508.9 1972.8L1508.9 1972.8Z" fill="#97e4f8" stroke="#1ab2e2" stroke-width="1.5" stroke-linejoin="round"/>
<text x="1294.2" y="1964.4" font-size="18.5">100</text>
<path d="M1407.8 2015L1407.8 2014.9L1409.1 2014L1410.3 2012.4L1411.6 2010.9L1412.8 2010.3L1414.1 2012.6L1415.3 2012.5L1416.6 2009.5L1417.8 2004.6L1419.1 2002.9L1420.3 1998.5L1421.6 1998L1422.8 1996.2L1424.1 1993.8L1425.3 1994.4L1426.6 1995.1L1427.8 1992.8L1429.1 1988.3L1430.3 1990.4L1431.6 1988.9L1432.8 1987.6L1434.1 1984.2L1435.3 1981.5L1436.6 1977L1437.8 1978.4L1439.1 1983L1440.3 1985.5L1441.6 1988.1L1442.8 1990.8L1444.1 1994.9L1445.3 1995.7L1446.6 1992.1L1447.8 1991.7L1449.1 1989.7L1450.3 1988.1L1451.6 1991.1L1452.8 1994.2L1454.1 2000.1L1455.3 2003.3L1456.6 2003.7L1457.8 2002L1459.1 2000.1L1460.3 1998.3L1461.6 2000.5L1462.8 2000L1464.1 2002.2L1465.3 2002.6L1466.6 2001.3L1467.8 2001.9L1469.1 2000.7L1470.3 2005.1L1471.6 2005.9L1472.8 2006.6L1474.1 2010.2L1475.3 2011.2L1476.6 2010.3L1477.8 2010.3L1479.1 2009.8L1480.3 2010.6L1481.6 2012.6L1482.8 2012.6L1484.1 2010.9L1485.3 2012L1486.6 2010L1487.8 2010.2L1489.1 2011.1L1490.3 2011.8L1491.6 2012.7L1492.8 2014.4L1494.1 2013.4L1495.3 2011.9L1496.6 2012.7L1497.8 2011.6L1499.1 2012.9L1500.3 2014.1L1501.6 2014.3L1502.8 2015L1503.1 2015.3L1503.1 2015Z" fill="#f7a9aa" stroke="#e03a3c" stroke-width="1.5" stroke-linejoin="round"/>
<text x="1294.2" y="2004.5" font-size="18.5">1,000</text>
<rect x="1283.6" y="1758.3" width="275.6" height="257.5" fill="none" stroke="#333" stroke-width="1.4"/>
<line x1="1284.1" y1="2015.8" x2="1284.1" y2="2021.8" stroke="#000" stroke-width="1.6" />
<line x1="1297.8" y1="2015.8" x2="1297.8" y2="2019.3" stroke="#000" stroke-width="1.1" />
<line x1="1305.7" y1="2015.8" x2="1305.7" y2="2019.3" stroke="#000" stroke-width="1.1" />
<line x1="1311.4" y1="2015.8" x2="1311.4" y2="2019.3" stroke="#000" stroke-width="1.1" />
<line x1="1315.8" y1="2015.8" x2="1315.8" y2="2019.3" stroke="#000" stroke-width="1.1" />
<line x1="1319.4" y1="2015.8" x2="1319.4" y2="2019.3" stroke="#000" stroke-width="1.1" />
<line x1="1322.4" y1="2015.8" x2="1322.4" y2="2019.3" stroke="#000" stroke-width="1.1" />
<line x1="1325.1" y1="2015.8" x2="1325.1" y2="2019.3" stroke="#000" stroke-width="1.1" />
<line x1="1327.4" y1="2015.8" x2="1327.4" y2="2019.3" stroke="#000" stroke-width="1.1" />
<text x="1281.3" y="2042.3" font-size="18.5">10</text>
<text x="1303.3" y="2036.7" font-size="12.5">0</text>
<line x1="1329.4" y1="2015.8" x2="1329.4" y2="2021.8" stroke="#000" stroke-width="1.6" />
<line x1="1343.1" y1="2015.8" x2="1343.1" y2="2019.3" stroke="#000" stroke-width="1.1" />
<line x1="1351.1" y1="2015.8" x2="1351.1" y2="2019.3" stroke="#000" stroke-width="1.1" />
<line x1="1356.8" y1="2015.8" x2="1356.8" y2="2019.3" stroke="#000" stroke-width="1.1" />
<line x1="1361.1" y1="2015.8" x2="1361.1" y2="2019.3" stroke="#000" stroke-width="1.1" />
<line x1="1364.7" y1="2015.8" x2="1364.7" y2="2019.3" stroke="#000" stroke-width="1.1" />
<line x1="1367.8" y1="2015.8" x2="1367.8" y2="2019.3" stroke="#000" stroke-width="1.1" />
<line x1="1370.4" y1="2015.8" x2="1370.4" y2="2019.3" stroke="#000" stroke-width="1.1" />
<line x1="1372.7" y1="2015.8" x2="1372.7" y2="2019.3" stroke="#000" stroke-width="1.1" />
<text x="1324.9" y="2042.3" font-size="18.5">10</text>
<text x="1346.9" y="2036.7" font-size="12.5">1</text>
<line x1="1374.8" y1="2015.8" x2="1374.8" y2="2021.8" stroke="#000" stroke-width="1.6" />
<line x1="1388.5" y1="2015.8" x2="1388.5" y2="2019.3" stroke="#000" stroke-width="1.1" />
<line x1="1396.4" y1="2015.8" x2="1396.4" y2="2019.3" stroke="#000" stroke-width="1.1" />
<line x1="1402.1" y1="2015.8" x2="1402.1" y2="2019.3" stroke="#000" stroke-width="1.1" />
<line x1="1406.5" y1="2015.8" x2="1406.5" y2="2019.3" stroke="#000" stroke-width="1.1" />
<line x1="1410.1" y1="2015.8" x2="1410.1" y2="2019.3" stroke="#000" stroke-width="1.1" />
<line x1="1413.1" y1="2015.8" x2="1413.1" y2="2019.3" stroke="#000" stroke-width="1.1" />
<line x1="1415.8" y1="2015.8" x2="1415.8" y2="2019.3" stroke="#000" stroke-width="1.1" />
<line x1="1418.1" y1="2015.8" x2="1418.1" y2="2019.3" stroke="#000" stroke-width="1.1" />
<text x="1368.5" y="2042.3" font-size="18.5">10</text>
<text x="1390.5" y="2036.7" font-size="12.5">2</text>
<line x1="1420.1" y1="2015.8" x2="1420.1" y2="2021.8" stroke="#000" stroke-width="1.6" />
<line x1="1433.8" y1="2015.8" x2="1433.8" y2="2019.3" stroke="#000" stroke-width="1.1" />
<line x1="1441.8" y1="2015.8" x2="1441.8" y2="2019.3" stroke="#000" stroke-width="1.1" />
<line x1="1447.5" y1="2015.8" x2="1447.5" y2="2019.3" stroke="#000" stroke-width="1.1" />
<line x1="1451.8" y1="2015.8" x2="1451.8" y2="2019.3" stroke="#000" stroke-width="1.1" />
<line x1="1455.4" y1="2015.8" x2="1455.4" y2="2019.3" stroke="#000" stroke-width="1.1" />
<line x1="1458.5" y1="2015.8" x2="1458.5" y2="2019.3" stroke="#000" stroke-width="1.1" />
<line x1="1461.1" y1="2015.8" x2="1461.1" y2="2019.3" stroke="#000" stroke-width="1.1" />
<line x1="1463.4" y1="2015.8" x2="1463.4" y2="2019.3" stroke="#000" stroke-width="1.1" />
<text x="1412.1" y="2042.3" font-size="18.5">10</text>
<text x="1434.1" y="2036.7" font-size="12.5">3</text>
<line x1="1465.5" y1="2015.8" x2="1465.5" y2="2021.8" stroke="#000" stroke-width="1.6" />
<line x1="1479.2" y1="2015.8" x2="1479.2" y2="2019.3" stroke="#000" stroke-width="1.1" />
<line x1="1487.1" y1="2015.8" x2="1487.1" y2="2019.3" stroke="#000" stroke-width="1.1" />
<line x1="1492.8" y1="2015.8" x2="1492.8" y2="2019.3" stroke="#000" stroke-width="1.1" />
<line x1="1497.2" y1="2015.8" x2="1497.2" y2="2019.3" stroke="#000" stroke-width="1.1" />
<line x1="1500.8" y1="2015.8" x2="1500.8" y2="2019.3" stroke="#000" stroke-width="1.1" />
<line x1="1503.8" y1="2015.8" x2="1503.8" y2="2019.3" stroke="#000" stroke-width="1.1" />
<line x1="1506.5" y1="2015.8" x2="1506.5" y2="2019.3" stroke="#000" stroke-width="1.1" />
<line x1="1508.8" y1="2015.8" x2="1508.8" y2="2019.3" stroke="#000" stroke-width="1.1" />
<text x="1455.7" y="2042.3" font-size="18.5">10</text>
<text x="1477.7" y="2036.7" font-size="12.5">4</text>
<line x1="1510.8" y1="2015.8" x2="1510.8" y2="2021.8" stroke="#000" stroke-width="1.6" />
<line x1="1524.5" y1="2015.8" x2="1524.5" y2="2019.3" stroke="#000" stroke-width="1.1" />
<line x1="1532.5" y1="2015.8" x2="1532.5" y2="2019.3" stroke="#000" stroke-width="1.1" />
<line x1="1538.2" y1="2015.8" x2="1538.2" y2="2019.3" stroke="#000" stroke-width="1.1" />
<line x1="1542.5" y1="2015.8" x2="1542.5" y2="2019.3" stroke="#000" stroke-width="1.1" />
<line x1="1546.1" y1="2015.8" x2="1546.1" y2="2019.3" stroke="#000" stroke-width="1.1" />
<line x1="1549.2" y1="2015.8" x2="1549.2" y2="2019.3" stroke="#000" stroke-width="1.1" />
<line x1="1551.8" y1="2015.8" x2="1551.8" y2="2019.3" stroke="#000" stroke-width="1.1" />
<line x1="1554.1" y1="2015.8" x2="1554.1" y2="2019.3" stroke="#000" stroke-width="1.1" />
<text x="1499.3" y="2042.3" font-size="18.5">10</text>
<text x="1521.3" y="2036.7" font-size="12.5">5</text>
<line x1="1556.2" y1="2015.8" x2="1556.2" y2="2021.8" stroke="#000" stroke-width="1.6" />
<text x="1542.9" y="2042.3" font-size="18.5">10</text>
<text x="1564.9" y="2036.7" font-size="12.5">6</text>
<text x="1337" y="2078.7" font-size="26.5" textLength="153" lengthAdjust="spacing">Viafluor-488</text>
<path d="M1674.4 1712.6L1663.6 1723L1674.4 1733.4M1663.4 1723L1685.4 1723" fill="none" stroke="#000" stroke-width="2.3" stroke-linecap="butt" stroke-linejoin="miter"/>
<text x="1697" y="1733.6" font-size="29.5" textLength="152" lengthAdjust="spacingAndGlyphs">Proliferation</text>
<line x1="1620.2" y1="1843" x2="1889.8" y2="1843" stroke="#eeea2a" stroke-width="1.8" stroke-opacity="0.3"/>
<path d="M1811.4 1843L1811.4 1842.9L1812.7 1843L1813.9 1843L1815.2 1842.8L1816.4 1842.8L1817.7 1842.9L1818.9 1842.4L1820.2 1842.7L1821.4 1842.8L1822.7 1843L1823.9 1842.1L1825.2 1842.3L1826.4 1842.1L1827.7 1842.9L1828.9 1842.7L1830.2 1841.9L1831.4 1843L1832.7 1843L1833.9 1842.6L1835.2 1842.5L1836.4 1841.6L1837.7 1841.1L1838.9 1841.5L1840.2 1839.9L1841.4 1836.1L1842.7 1832.2L1843.9 1827.1L1845.2 1823.5L1846.4 1817.2L1847.7 1813.6L1848.9 1809.4L1850.2 1808L1851.4 1806.9L1852.7 1806.8L1853.9 1805.5L1855.2 1804.3L1856.4 1806L1857.7 1807.4L1858.9 1808.8L1860.2 1808L1861.4 1806.1L1862.7 1806.4L1863.9 1810.8L1865.2 1825.4L1866.4 1829.2L1867.7 1829.3L1868.9 1832.7L1870.2 1834.9L1871.4 1839.6L1872.7 1841.6L1873.9 1841.8L1875.2 1842.3L1876.4 1843L1877.7 1842.9L1878.9 1843L1880.2 1842.9L1881.4 1842.5L1882.7 1843L1883.9 1843L1885.2 1842.7L1886.4 1842.5L1887.6 1843L1887.6 1843Z" fill="#f9f77e" stroke="#eeea2a" stroke-width="1.5" stroke-linejoin="round"/>
<line x1="1620.2" y1="1929.3" x2="1889.8" y2="1929.3" stroke="#0c7f86" stroke-width="1.8" stroke-opacity="0.3"/>
<path d="M1744.8 1929.3L1744.8 1929L1746 1929.1L1747.3 1928.9L1748.5 1928.1L1749.8 1927.7L1751 1928L1752.3 1927.8L1753.5 1928.7L1754.8 1928.7L1756 1928.7L1757.3 1928.6L1758.5 1928.5L1759.8 1927.4L1761 1927.5L1762.3 1926.7L1763.5 1927.7L1764.8 1926.3L1766 1927.9L1767.3 1926.9L1768.5 1928.1L1769.8 1927.2L1771 1927L1772.3 1927.4L1773.5 1925.5L1774.8 1925.1L1776 1926.4L1777.3 1924.7L1778.5 1922.8L1779.8 1924.8L1781 1925L1782.3 1923.4L1783.5 1924.1L1784.8 1923L1786 1923L1787.3 1922.9L1788.5 1920.2L1789.8 1920.6L1791 1917.3L1792.3 1916.4L1793.5 1917.5L1794.8 1915.2L1796 1915.2L1797.3 1916.2L1798.5 1912.7L1799.8 1909.4L1801 1905.8L1802.3 1906.9L1803.5 1910.2L1804.8 1912L1806 1911.6L1807.3 1911L1808.5 1911L1809.8 1909.9L1811 1906.1L1812.3 1901.8L1813.5 1900.3L1814.8 1898.4L1816 1896.3L1817.3 1900.5L1818.5 1901.5L1819.8 1899.2L1821 1906.7L1822.3 1909.8L1823.5 1908.2L1824.8 1909.1L1826 1911.7L1827.3 1913.5L1828.5 1916.8L1829.8 1917.1L1831 1920.2L1832.3 1919.6L1833.5 1922.8L1834.8 1923.7L1836 1926.1L1837.3 1927.5L1838.5 1928.4L1839.8 1927.8L1841 1928.5L1842.3 1928.3L1843.5 1928.6L1844.8 1929.1L1846 1929.3L1846 1929.3Z" fill="#8fcfd3" stroke="#0c7f86" stroke-width="1.5" stroke-linejoin="round"/>
<path d="M1742.4 2015L1742.4 2013.5L1743.6 2013.3L1744.9 2012.6L1746.1 2012.2L1747.4 2010L1748.6 2009.2L1749.9 2008.2L1751.1 2007.6L1752.4 2008.1L1753.6 2004.9L1754.9 2005L1756.1 2002.7L1757.4 2000.7L1758.6 1998.2L1759.9 1996.1L1761.1 1990.3L1762.4 1982.7L1763.6 1976.1L1764.9 1973.5L1766.1 1974.6L1767.4 1966.7L1768.6 1958.7L1769.9 1958.5L1771.1 1963.9L1772.4 1973.7L1773.6 1977.7L1774.9 1960.4L1776.1 1955.8L1777.4 1966.5L1778.6 1973.3L1779.9 1970.7L1781.1 1967.9L1782.4 1958.1L1783.6 1963.7L1784.9 1975.4L1786.1 1976L1787.4 1980.5L1788.6 1985.5L1789.9 1990L1791.1 1992.8L1792.4 1992L1793.6 1992.1L1794.9 1993.3L1796.1 1997.9L1797.4 1998.9L1798.6 1999.7L1799.9 2001.1L1801.1 2002.8L1802.4 2002.8L1803.6 2004.7L1804.9 2005.5L1806.1 2004.2L1807.4 2003.8L1808.6 2006.2L1809.9 2006.7L1811.1 2008L1812.4 2008.6L1813.6 2009.6L1814.9 2009.4L1816.1 2011.3L1817.4 2012.4L1818.6 2011.3L1819.9 2012.1L1821.1 2012.6L1822.4 2011.1L1823.6 2011.4L1824.9 2012.8L1826.1 2013L1827.4 2012.8L1828.6 2012.2L1829.9 2013.1L1831.1 2014.2L1831.7 2013.8L1831.7 2015Z" fill="#db97ea" stroke="#8a14c6" stroke-width="1.5" stroke-linejoin="round"/>
<text x="1621.2" y="1836" font-size="20" textLength="149" lengthAdjust="spacing">No Stim – Day 0</text>
<text x="1621.2" y="1923.2" font-size="20" textLength="120.5" lengthAdjust="spacing">Mis-Match (-)</text>
<text x="1621.2" y="2004.5" font-size="20" textLength="130" lengthAdjust="spacing">CD3/CD28 (+)</text>
<rect x="1617.2" y="1757.1" width="275.6" height="258.7" fill="none" stroke="#333" stroke-width="1.4"/>
<line x1="1617.7" y1="2015.8" x2="1617.7" y2="2021.8" stroke="#000" stroke-width="1.6" />
<line x1="1631.4" y1="2015.8" x2="1631.4" y2="2019.3" stroke="#000" stroke-width="1.1" />
<line x1="1639.4" y1="2015.8" x2="1639.4" y2="2019.3" stroke="#000" stroke-width="1.1" />
<line x1="1645" y1="2015.8" x2="1645" y2="2019.3" stroke="#000" stroke-width="1.1" />
<line x1="1649.4" y1="2015.8" x2="1649.4" y2="2019.3" stroke="#000" stroke-width="1.1" />
<line x1="1653" y1="2015.8" x2="1653" y2="2019.3" stroke="#000" stroke-width="1.1" />
<line x1="1656.1" y1="2015.8" x2="1656.1" y2="2019.3" stroke="#000" stroke-width="1.1" />
<line x1="1658.7" y1="2015.8" x2="1658.7" y2="2019.3" stroke="#000" stroke-width="1.1" />
<line x1="1661" y1="2015.8" x2="1661" y2="2019.3" stroke="#000" stroke-width="1.1" />
<text x="1614.1" y="2042.3" font-size="18.5">10</text>
<text x="1636.1" y="2036.7" font-size="12.5">0</text>
<line x1="1663.1" y1="2015.8" x2="1663.1" y2="2021.8" stroke="#000" stroke-width="1.6" />
<line x1="1676.8" y1="2015.8" x2="1676.8" y2="2019.3" stroke="#000" stroke-width="1.1" />
<line x1="1684.8" y1="2015.8" x2="1684.8" y2="2019.3" stroke="#000" stroke-width="1.1" />
<line x1="1690.5" y1="2015.8" x2="1690.5" y2="2019.3" stroke="#000" stroke-width="1.1" />
<line x1="1694.9" y1="2015.8" x2="1694.9" y2="2019.3" stroke="#000" stroke-width="1.1" />
<line x1="1698.5" y1="2015.8" x2="1698.5" y2="2019.3" stroke="#000" stroke-width="1.1" />
<line x1="1701.5" y1="2015.8" x2="1701.5" y2="2019.3" stroke="#000" stroke-width="1.1" />
<line x1="1704.1" y1="2015.8" x2="1704.1" y2="2019.3" stroke="#000" stroke-width="1.1" />
<line x1="1706.5" y1="2015.8" x2="1706.5" y2="2019.3" stroke="#000" stroke-width="1.1" />
<text x="1657.5" y="2042.3" font-size="18.5">10</text>
<text x="1679.5" y="2036.7" font-size="12.5">1</text>
<line x1="1708.5" y1="2015.8" x2="1708.5" y2="2021.8" stroke="#000" stroke-width="1.6" />
<line x1="1722.2" y1="2015.8" x2="1722.2" y2="2019.3" stroke="#000" stroke-width="1.1" />
<line x1="1730.2" y1="2015.8" x2="1730.2" y2="2019.3" stroke="#000" stroke-width="1.1" />
<line x1="1735.9" y1="2015.8" x2="1735.9" y2="2019.3" stroke="#000" stroke-width="1.1" />
<line x1="1740.3" y1="2015.8" x2="1740.3" y2="2019.3" stroke="#000" stroke-width="1.1" />
<line x1="1743.9" y1="2015.8" x2="1743.9" y2="2019.3" stroke="#000" stroke-width="1.1" />
<line x1="1746.9" y1="2015.8" x2="1746.9" y2="2019.3" stroke="#000" stroke-width="1.1" />
<line x1="1749.6" y1="2015.8" x2="1749.6" y2="2019.3" stroke="#000" stroke-width="1.1" />
<line x1="1751.9" y1="2015.8" x2="1751.9" y2="2019.3" stroke="#000" stroke-width="1.1" />
<text x="1700.9" y="2042.3" font-size="18.5">10</text>
<text x="1722.9" y="2036.7" font-size="12.5">2</text>
<line x1="1754" y1="2015.8" x2="1754" y2="2021.8" stroke="#000" stroke-width="1.6" />
<line x1="1767.6" y1="2015.8" x2="1767.6" y2="2019.3" stroke="#000" stroke-width="1.1" />
<line x1="1775.6" y1="2015.8" x2="1775.6" y2="2019.3" stroke="#000" stroke-width="1.1" />
<line x1="1781.3" y1="2015.8" x2="1781.3" y2="2019.3" stroke="#000" stroke-width="1.1" />
<line x1="1785.7" y1="2015.8" x2="1785.7" y2="2019.3" stroke="#000" stroke-width="1.1" />
<line x1="1789.3" y1="2015.8" x2="1789.3" y2="2019.3" stroke="#000" stroke-width="1.1" />
<line x1="1792.3" y1="2015.8" x2="1792.3" y2="2019.3" stroke="#000" stroke-width="1.1" />
<line x1="1795" y1="2015.8" x2="1795" y2="2019.3" stroke="#000" stroke-width="1.1" />
<line x1="1797.3" y1="2015.8" x2="1797.3" y2="2019.3" stroke="#000" stroke-width="1.1" />
<text x="1744.3" y="2042.3" font-size="18.5">10</text>
<text x="1766.3" y="2036.7" font-size="12.5">3</text>
<line x1="1799.4" y1="2015.8" x2="1799.4" y2="2021.8" stroke="#000" stroke-width="1.6" />
<line x1="1813.1" y1="2015.8" x2="1813.1" y2="2019.3" stroke="#000" stroke-width="1.1" />
<line x1="1821.1" y1="2015.8" x2="1821.1" y2="2019.3" stroke="#000" stroke-width="1.1" />
<line x1="1826.7" y1="2015.8" x2="1826.7" y2="2019.3" stroke="#000" stroke-width="1.1" />
<line x1="1831.1" y1="2015.8" x2="1831.1" y2="2019.3" stroke="#000" stroke-width="1.1" />
<line x1="1834.7" y1="2015.8" x2="1834.7" y2="2019.3" stroke="#000" stroke-width="1.1" />
<line x1="1837.8" y1="2015.8" x2="1837.8" y2="2019.3" stroke="#000" stroke-width="1.1" />
<line x1="1840.4" y1="2015.8" x2="1840.4" y2="2019.3" stroke="#000" stroke-width="1.1" />
<line x1="1842.7" y1="2015.8" x2="1842.7" y2="2019.3" stroke="#000" stroke-width="1.1" />
<text x="1787.7" y="2042.3" font-size="18.5">10</text>
<text x="1809.7" y="2036.7" font-size="12.5">4</text>
<line x1="1844.8" y1="2015.8" x2="1844.8" y2="2021.8" stroke="#000" stroke-width="1.6" />
<line x1="1858.5" y1="2015.8" x2="1858.5" y2="2019.3" stroke="#000" stroke-width="1.1" />
<line x1="1866.5" y1="2015.8" x2="1866.5" y2="2019.3" stroke="#000" stroke-width="1.1" />
<line x1="1872.1" y1="2015.8" x2="1872.1" y2="2019.3" stroke="#000" stroke-width="1.1" />
<line x1="1876.5" y1="2015.8" x2="1876.5" y2="2019.3" stroke="#000" stroke-width="1.1" />
<line x1="1880.1" y1="2015.8" x2="1880.1" y2="2019.3" stroke="#000" stroke-width="1.1" />
<line x1="1883.2" y1="2015.8" x2="1883.2" y2="2019.3" stroke="#000" stroke-width="1.1" />
<line x1="1885.8" y1="2015.8" x2="1885.8" y2="2019.3" stroke="#000" stroke-width="1.1" />
<line x1="1888.1" y1="2015.8" x2="1888.1" y2="2019.3" stroke="#000" stroke-width="1.1" />
<text x="1831.1" y="2042.3" font-size="18.5">10</text>
<text x="1853.1" y="2036.7" font-size="12.5">5</text>
<line x1="1890.2" y1="2015.8" x2="1890.2" y2="2021.8" stroke="#000" stroke-width="1.6" />
<text x="1874.5" y="2042.3" font-size="18.5">10</text>
<text x="1896.5" y="2036.7" font-size="12.5">6</text>
<text x="1681" y="2078.7" font-size="26.5" textLength="152" lengthAdjust="spacing">Viafluor-488</text></svg></body></html>
